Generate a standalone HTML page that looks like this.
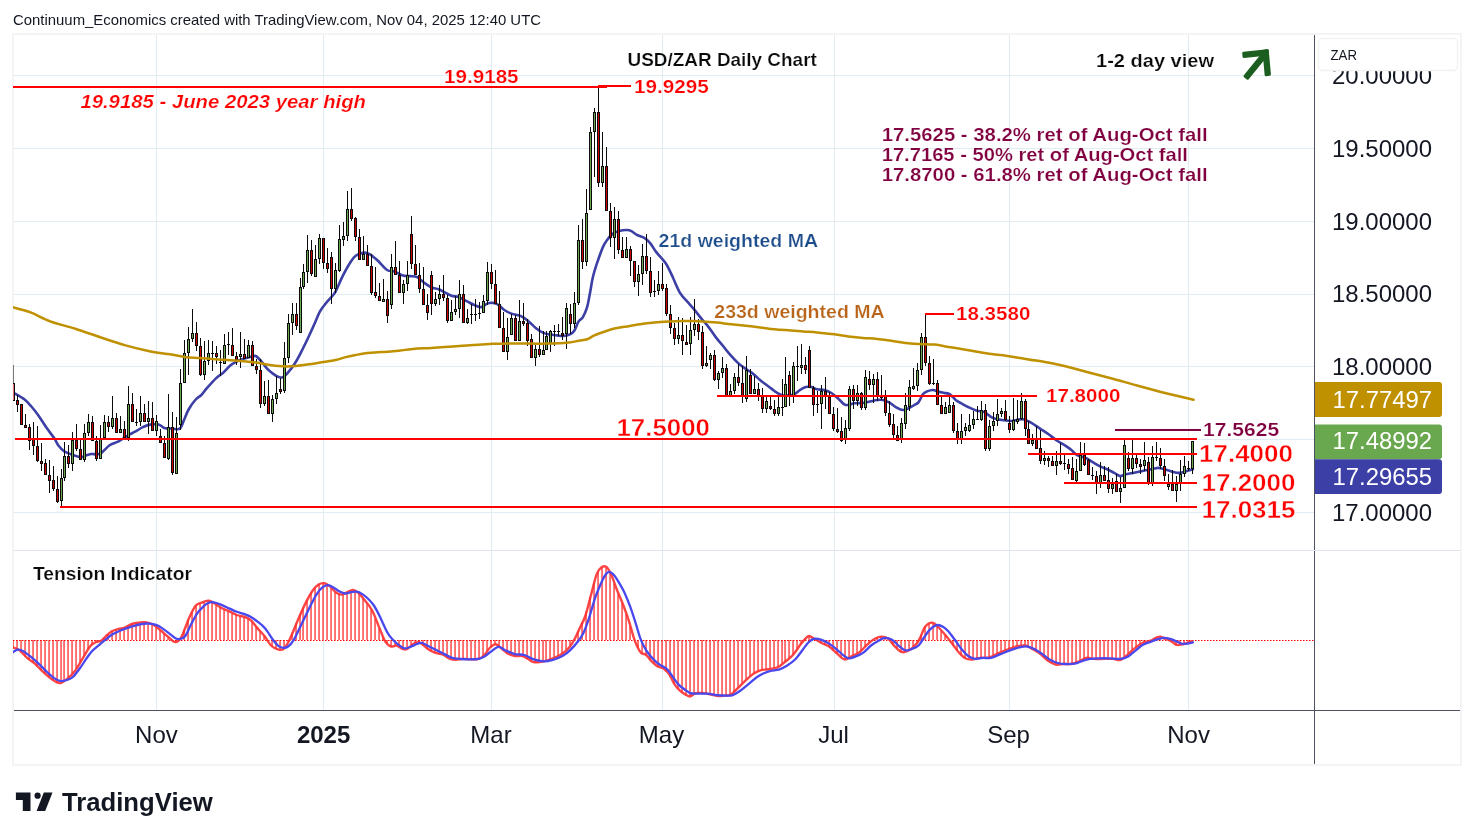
<!DOCTYPE html>
<html><head><meta charset="utf-8"><title>USD/ZAR Daily Chart</title>
<style>html,body{margin:0;padding:0;background:#fff}body{width:1474px;height:840px;overflow:hidden;font-family:"Liberation Sans",sans-serif}</style></head>
<body>
<svg width="1474" height="840" viewBox="0 0 1474 840" style="display:block;font-family:'Liberation Sans',sans-serif;">
<rect width="1474" height="840" fill="#fff"/>
<g style="will-change:transform">
<defs><clipPath id="cpMain"><rect x="13" y="35" width="1301" height="515"/></clipPath><clipPath id="cpInd"><rect x="13" y="551" width="1301" height="159"/></clipPath></defs>
<text x="13" y="24.6" font-size="14.2" fill="#131722" textLength="528" lengthAdjust="spacingAndGlyphs">Continuum_Economics created with TradingView.com, Nov 04, 2025 12:40 UTC</text>
<g shape-rendering="crispEdges"><rect x="156" y="35" width="1" height="675" fill="#e1ecf2"/><rect x="323" y="35" width="1" height="675" fill="#e1ecf2"/><rect x="491" y="35" width="1" height="675" fill="#e1ecf2"/><rect x="662" y="35" width="1" height="675" fill="#e1ecf2"/><rect x="834" y="35" width="1" height="675" fill="#e1ecf2"/><rect x="1009" y="35" width="1" height="675" fill="#e1ecf2"/><rect x="1188" y="35" width="1" height="675" fill="#e1ecf2"/><rect x="14" y="75" width="1300" height="1" fill="#e1ecf2"/><rect x="14" y="148" width="1300" height="1" fill="#e1ecf2"/><rect x="14" y="221" width="1300" height="1" fill="#e1ecf2"/><rect x="14" y="294" width="1300" height="1" fill="#e1ecf2"/><rect x="14" y="366" width="1300" height="1" fill="#e1ecf2"/><rect x="14" y="439" width="1300" height="1" fill="#e1ecf2"/><rect x="14" y="512" width="1300" height="1" fill="#e1ecf2"/></g>
<g shape-rendering="crispEdges" fill="#f4f4f5"><rect x="12" y="33" width="1450" height="2"/><rect x="12" y="33" width="2" height="733"/><rect x="1460" y="33" width="2" height="733"/><rect x="12" y="764" width="1450" height="2"/></g>
<g clip-path="url(#cpMain)" fill="none" stroke-linejoin="round" stroke-linecap="round">
<path d="M13.0,392.5C13.3,392.7 13.1,392.5 15.0,393.6C16.9,394.7 21.6,397.2 24.3,399.3C27.0,401.4 29.0,403.8 31.4,406.5C33.8,409.2 36.0,412.0 38.6,415.7C41.2,419.4 44.5,424.8 47.1,428.6C49.7,432.4 52.4,435.5 54.3,438.3C56.2,441.1 56.9,443.5 58.6,445.7C60.3,447.9 61.9,449.8 64.3,451.4C66.7,452.9 70.1,454.1 72.9,455.0C75.8,455.9 79.0,457.1 81.4,457.1C83.8,457.1 85.4,455.5 87.1,455.0C88.8,454.5 89.7,454.1 91.4,454.0C93.1,453.9 95.4,454.5 97.1,454.3C98.8,454.1 99.2,454.4 101.4,452.9C103.6,451.3 107.1,446.9 110.0,445.0C112.9,443.1 115.5,443.1 118.6,441.4C121.7,439.7 125.8,436.7 128.6,435.0C131.4,433.3 133.3,432.7 135.7,431.4C138.1,430.1 140.5,428.2 142.9,427.1C145.3,426.0 147.4,425.0 150.0,424.6C152.6,424.2 156.2,424.1 158.6,424.6C161.0,425.2 162.1,427.2 164.3,427.9C166.5,428.6 169.4,428.5 172.0,428.6C174.6,428.7 178.0,430.0 180.0,428.6C182.0,427.2 182.6,423.2 184.0,420.0C185.4,416.8 186.7,412.9 188.6,409.5C190.5,406.1 193.6,401.9 195.7,399.5C197.8,397.1 199.5,396.9 201.4,395.0C203.3,393.1 204.7,390.6 207.1,387.9C209.5,385.2 213.1,381.1 215.7,378.6C218.3,376.1 220.5,375.0 222.9,372.9C225.3,370.8 227.6,367.6 230.0,365.7C232.4,363.8 234.7,362.6 237.1,361.4C239.5,360.2 242.2,359.3 244.3,358.6C246.5,357.9 248.1,357.5 250.0,357.1C251.9,356.7 253.8,355.3 255.7,356.0C257.6,356.7 259.5,359.3 261.4,361.4C263.3,363.5 265.2,366.6 267.1,368.6C269.0,370.6 271.0,372.2 272.9,373.6C274.8,375.0 276.9,376.5 278.6,377.1C280.3,377.7 281.5,377.7 282.9,377.1C284.3,376.5 285.2,375.7 287.1,373.6C289.0,371.5 292.2,367.5 294.3,364.3C296.4,361.1 297.9,358.4 300.0,354.3C302.1,350.2 304.7,345.0 307.1,340.0C309.5,335.0 312.2,329.1 314.3,324.3C316.4,319.5 318.1,314.9 320.0,311.4C321.9,307.9 323.8,305.9 325.7,303.5C327.6,301.1 329.7,299.0 331.4,297.0C333.1,295.0 333.8,294.9 335.7,291.4C337.6,287.8 340.5,280.4 342.9,275.7C345.3,270.9 347.9,266.2 350.0,262.9C352.1,259.6 353.3,257.4 355.7,255.7C358.1,254.0 361.9,252.8 364.3,252.6C366.7,252.4 367.9,253.1 370.0,254.3C372.1,255.5 374.2,257.4 377.1,260.0C380.0,262.6 384.2,268.1 387.1,270.0C390.0,271.9 391.7,270.5 394.3,271.4C396.9,272.3 400.3,274.6 402.9,275.4C405.5,276.2 407.6,275.8 410.0,276.1C412.4,276.4 414.7,276.0 417.1,277.1C419.5,278.2 421.9,281.2 424.3,282.9C426.7,284.6 429.0,286.3 431.4,287.4C433.8,288.5 436.5,288.5 438.6,289.3C440.8,290.1 442.2,291.0 444.3,292.1C446.4,293.2 449.0,294.9 451.4,295.7C453.8,296.5 456.0,296.2 458.6,297.1C461.2,298.1 464.5,300.1 467.1,301.4C469.7,302.7 471.9,304.1 474.3,305.0C476.7,305.9 479.3,307.3 481.4,307.1C483.5,306.9 485.2,304.3 487.1,303.6C489.0,302.9 491.0,302.7 492.9,302.9C494.8,303.1 496.7,303.8 498.6,305.0C500.5,306.2 502.2,308.6 504.3,310.0C506.4,311.4 508.5,312.5 511.4,313.6C514.2,314.7 518.5,315.1 521.4,316.4C524.3,317.7 526.2,319.5 528.6,321.4C531.0,323.3 533.3,326.0 535.7,327.9C538.1,329.8 540.5,331.5 542.9,332.6C545.3,333.7 547.6,334.1 550.0,334.6C552.4,335.1 555.0,335.2 557.1,335.4C559.2,335.6 560.8,336.2 562.9,336.0C565.0,335.8 568.1,335.2 570.0,334.3C571.9,333.4 572.9,332.9 574.3,330.7C575.7,328.5 577.2,323.7 578.6,321.4C580.0,319.1 581.5,319.5 582.9,317.1C584.3,314.7 585.9,311.1 587.1,307.1C588.3,303.1 589.0,297.9 590.0,292.9C591.0,287.9 591.7,282.0 592.9,277.0C594.1,272.0 595.4,267.9 597.1,262.9C598.8,257.9 601.2,250.9 602.9,247.1C604.6,243.3 605.4,242.2 607.1,240.0C608.8,237.8 610.8,235.2 612.9,233.6C615.0,232.0 617.6,231.3 620.0,230.7C622.4,230.1 625.2,229.9 627.1,230.0C629.0,230.1 629.7,230.3 631.4,231.1C633.1,231.9 635.0,233.9 637.1,235.0C639.2,236.1 642.1,236.6 644.3,237.9C646.4,239.2 648.1,240.7 650.0,242.9C651.9,245.2 653.8,248.9 655.7,251.4C657.6,253.9 659.5,255.7 661.4,258.0C663.3,260.4 665.2,262.2 667.1,265.5C669.0,268.8 670.8,272.9 672.9,277.5C675.0,282.1 677.6,288.9 680.0,292.9C682.4,296.9 685.0,298.9 687.1,301.4C689.2,303.9 690.5,305.0 692.9,307.9C695.3,310.8 698.8,315.4 701.4,318.6C704.0,321.8 706.2,324.0 708.6,327.1C711.0,330.2 713.3,334.0 715.7,337.1C718.1,340.2 720.8,343.1 722.9,345.7C725.0,348.3 726.2,350.2 728.6,352.9C731.0,355.6 734.5,359.6 737.1,362.1C739.7,364.6 741.7,366.0 744.3,367.9C746.9,369.8 750.3,371.6 752.9,373.6C755.5,375.6 757.9,378.2 760.0,380.0C762.1,381.8 763.8,382.9 765.7,384.3C767.6,385.7 769.5,387.2 771.4,388.6C773.3,390.0 775.2,391.8 777.1,392.9C779.0,394.0 781.0,395.0 782.9,395.4C784.8,395.8 786.7,395.6 788.6,395.4C790.5,395.2 792.4,395.2 794.3,394.3C796.2,393.4 798.1,391.2 800.0,390.0C801.9,388.8 803.8,387.6 805.7,387.1C807.6,386.6 809.5,386.7 811.4,387.1C813.3,387.5 815.0,388.8 817.1,389.3C819.2,389.8 821.9,389.4 824.3,390.0C826.7,390.6 829.0,391.5 831.4,393.0C833.8,394.5 836.5,397.1 838.6,399.0C840.8,400.9 842.6,403.3 844.3,404.3C846.0,405.3 846.9,405.2 848.6,405.0C850.3,404.8 851.9,403.6 854.3,403.3C856.7,403.0 860.3,403.3 862.9,403.0C865.5,402.7 867.6,402.0 870.0,401.5C872.4,401.0 875.0,400.2 877.1,400.0C879.2,399.8 880.8,399.5 882.9,400.0C885.0,400.5 887.9,401.7 890.0,402.9C892.1,404.1 893.6,405.9 895.7,407.1C897.9,408.3 900.8,409.8 902.9,410.0C905.0,410.2 906.7,409.1 908.6,408.3C910.5,407.5 912.6,406.0 914.3,405.0C916.0,404.0 917.2,403.9 918.6,402.1C920.0,400.3 921.5,396.1 922.9,394.3C924.3,392.5 925.4,392.1 927.1,391.4C928.8,390.7 931.0,389.9 932.9,390.0C934.8,390.1 936.7,391.2 938.6,391.7C940.5,392.2 942.4,392.5 944.3,392.9C946.2,393.3 948.1,393.1 950.0,394.3C951.9,395.5 953.6,398.3 955.7,400.0C957.9,401.7 960.5,403.0 962.9,404.3C965.3,405.6 967.6,406.8 970.0,407.9C972.4,409.0 974.7,410.0 977.1,410.7C979.5,411.4 981.9,411.0 984.3,412.1C986.7,413.2 989.3,415.9 991.4,417.1C993.5,418.3 995.0,418.8 997.1,419.3C999.2,419.8 1001.9,420.0 1004.3,420.3C1006.7,420.6 1009.0,421.1 1011.4,421.0C1013.8,420.9 1016.5,419.8 1018.6,419.5C1020.8,419.2 1022.2,418.9 1024.3,419.5C1026.4,420.1 1028.8,421.4 1031.4,422.9C1034.0,424.4 1037.1,426.7 1040.0,428.6C1042.9,430.5 1045.8,432.3 1048.6,434.3C1051.4,436.3 1054.5,438.9 1057.1,440.7C1059.7,442.5 1061.9,443.4 1064.3,445.0C1066.7,446.6 1069.3,448.3 1071.4,450.0C1073.5,451.7 1074.7,453.7 1077.1,455.0C1079.5,456.3 1083.3,456.8 1085.7,457.9C1088.1,459.0 1089.0,460.0 1091.4,461.4C1093.8,462.8 1097.4,465.1 1100.0,466.4C1102.6,467.7 1104.7,468.2 1107.1,469.3C1109.5,470.4 1112.1,471.8 1114.3,472.9C1116.5,474.0 1118.1,475.9 1120.0,476.1C1121.9,476.3 1123.5,474.8 1125.7,474.3C1127.9,473.8 1130.5,473.4 1132.9,472.9C1135.3,472.4 1137.6,471.9 1140.0,471.4C1142.4,470.9 1144.7,470.5 1147.1,470.0C1149.5,469.5 1152.4,469.0 1154.3,468.6C1156.2,468.2 1156.9,467.8 1158.6,467.9C1160.3,468.0 1162.2,468.7 1164.3,469.3C1166.4,469.9 1169.0,470.8 1171.4,471.4C1173.8,472.0 1176.2,472.9 1178.6,472.9C1181.0,472.9 1183.3,472.0 1185.7,471.4C1188.1,470.8 1191.7,469.6 1192.9,469.3" stroke="#3c3fa5" stroke-width="2.6"/>
</g>
<g shape-rendering="crispEdges" clip-path="url(#cpMain)"><g fill="#0b0b0b"><rect x="13" y="365" width="1" height="36" fill="#7a7a7a"/><rect x="12" y="383" width="3" height="18"/><rect x="17" y="395" width="1" height="17"/><rect x="16" y="400" width="3" height="5"/><rect x="21" y="404" width="1" height="21"/><rect x="20" y="404" width="3" height="21"/><rect x="25" y="414" width="1" height="14"/><rect x="24" y="425" width="3" height="3"/><rect x="29" y="424" width="1" height="26"/><rect x="28" y="427" width="3" height="14"/><rect x="33" y="422" width="1" height="33"/><rect x="32" y="439" width="3" height="7"/><rect x="37" y="426" width="1" height="36"/><rect x="36" y="446" width="3" height="15"/><rect x="41" y="443" width="1" height="28"/><rect x="40" y="461" width="3" height="3"/><rect x="45" y="459" width="1" height="16"/><rect x="44" y="463" width="3" height="12"/><rect x="49" y="460" width="1" height="33"/><rect x="48" y="475" width="3" height="6"/><rect x="53" y="466" width="1" height="25"/><rect x="52" y="480" width="3" height="9"/><rect x="57" y="476" width="1" height="27"/><rect x="56" y="489" width="3" height="13"/><rect x="61" y="469" width="1" height="37"/><rect x="60" y="478" width="3" height="23"/><rect x="64" y="442" width="1" height="39"/><rect x="63" y="456" width="3" height="22"/><rect x="68" y="445" width="1" height="23"/><rect x="67" y="456" width="3" height="8"/><rect x="72" y="432" width="1" height="39"/><rect x="71" y="440" width="3" height="24"/><rect x="76" y="424" width="1" height="27"/><rect x="75" y="440" width="3" height="9"/><rect x="80" y="440" width="1" height="20"/><rect x="79" y="449" width="3" height="11"/><rect x="84" y="424" width="1" height="38"/><rect x="83" y="433" width="3" height="27"/><rect x="88" y="414" width="1" height="22"/><rect x="87" y="422" width="3" height="11"/><rect x="92" y="416" width="1" height="25"/><rect x="91" y="422" width="3" height="19"/><rect x="96" y="436" width="1" height="25"/><rect x="95" y="441" width="3" height="18"/><rect x="100" y="425" width="1" height="34"/><rect x="99" y="438" width="3" height="21"/><rect x="104" y="415" width="1" height="23"/><rect x="103" y="422" width="3" height="16"/><rect x="108" y="416" width="1" height="16"/><rect x="107" y="422" width="3" height="5"/><rect x="112" y="396" width="1" height="33"/><rect x="111" y="418" width="3" height="9"/><rect x="116" y="413" width="1" height="20"/><rect x="115" y="418" width="3" height="15"/><rect x="120" y="416" width="1" height="17"/><rect x="119" y="429" width="3" height="4"/><rect x="124" y="421" width="1" height="17"/><rect x="123" y="429" width="3" height="9"/><rect x="128" y="386" width="1" height="55"/><rect x="127" y="404" width="3" height="34"/><rect x="132" y="393" width="1" height="29"/><rect x="131" y="404" width="3" height="18"/><rect x="136" y="409" width="1" height="17"/><rect x="135" y="422" width="3" height="1"/><rect x="140" y="396" width="1" height="30"/><rect x="139" y="413" width="3" height="9"/><rect x="144" y="404" width="1" height="18"/><rect x="143" y="413" width="3" height="9"/><rect x="148" y="401" width="1" height="33"/><rect x="147" y="418" width="3" height="4"/><rect x="152" y="402" width="1" height="29"/><rect x="151" y="418" width="3" height="13"/><rect x="156" y="415" width="1" height="21"/><rect x="155" y="421" width="3" height="10"/><rect x="160" y="429" width="1" height="14"/><rect x="159" y="436" width="3" height="7"/><rect x="164" y="436" width="1" height="22"/><rect x="163" y="443" width="3" height="15"/><rect x="168" y="394" width="1" height="66"/><rect x="167" y="427" width="3" height="32"/><rect x="172" y="412" width="1" height="63"/><rect x="171" y="427" width="3" height="46"/><rect x="176" y="417" width="1" height="57"/><rect x="175" y="433" width="3" height="41"/><rect x="180" y="369" width="1" height="61"/><rect x="179" y="383" width="3" height="42"/><rect x="184" y="340" width="1" height="43"/><rect x="183" y="353" width="3" height="30"/><rect x="188" y="327" width="1" height="48"/><rect x="187" y="339" width="3" height="14"/><rect x="192" y="309" width="1" height="33"/><rect x="191" y="333" width="3" height="6"/><rect x="196" y="322" width="1" height="29"/><rect x="195" y="333" width="3" height="13"/><rect x="200" y="338" width="1" height="38"/><rect x="199" y="346" width="3" height="29"/><rect x="204" y="341" width="1" height="39"/><rect x="203" y="361" width="3" height="14"/><rect x="208" y="340" width="1" height="25"/><rect x="207" y="353" width="3" height="8"/><rect x="212" y="341" width="1" height="30"/><rect x="211" y="353" width="3" height="1"/><rect x="216" y="346" width="1" height="18"/><rect x="215" y="353" width="3" height="4"/><rect x="220" y="350" width="1" height="26"/><rect x="219" y="362" width="3" height="1"/><rect x="224" y="334" width="1" height="30"/><rect x="223" y="345" width="3" height="19"/><rect x="228" y="332" width="1" height="23"/><rect x="227" y="344" width="3" height="1"/><rect x="232" y="328" width="1" height="28"/><rect x="231" y="345" width="3" height="11"/><rect x="236" y="352" width="1" height="13"/><rect x="235" y="356" width="3" height="4"/><rect x="240" y="332" width="1" height="36"/><rect x="239" y="354" width="3" height="3"/><rect x="244" y="339" width="1" height="20"/><rect x="243" y="354" width="3" height="5"/><rect x="248" y="340" width="1" height="18"/><rect x="247" y="345" width="3" height="13"/><rect x="252" y="341" width="1" height="25"/><rect x="251" y="345" width="3" height="21"/><rect x="256" y="359" width="1" height="15"/><rect x="255" y="366" width="3" height="4"/><rect x="260" y="359" width="1" height="49"/><rect x="259" y="370" width="3" height="34"/><rect x="264" y="381" width="1" height="25"/><rect x="263" y="396" width="3" height="8"/><rect x="268" y="380" width="1" height="34"/><rect x="267" y="396" width="3" height="18"/><rect x="272" y="395" width="1" height="27"/><rect x="271" y="399" width="3" height="15"/><rect x="276" y="376" width="1" height="28"/><rect x="275" y="393" width="3" height="6"/><rect x="280" y="378" width="1" height="16"/><rect x="279" y="389" width="3" height="3"/><rect x="284" y="342" width="1" height="51"/><rect x="283" y="358" width="3" height="33"/><rect x="288" y="314" width="1" height="49"/><rect x="287" y="323" width="3" height="35"/><rect x="292" y="303" width="1" height="32"/><rect x="291" y="314" width="3" height="9"/><rect x="296" y="303" width="1" height="27"/><rect x="295" y="314" width="3" height="12"/><rect x="300" y="278" width="1" height="55"/><rect x="299" y="287" width="3" height="46"/><rect x="303" y="264" width="1" height="25"/><rect x="302" y="272" width="3" height="15"/><rect x="307" y="235" width="1" height="48"/><rect x="306" y="250" width="3" height="22"/><rect x="311" y="240" width="1" height="36"/><rect x="310" y="250" width="3" height="24"/><rect x="315" y="245" width="1" height="32"/><rect x="314" y="259" width="3" height="18"/><rect x="319" y="234" width="1" height="30"/><rect x="318" y="238" width="3" height="21"/><rect x="323" y="238" width="1" height="31"/><rect x="322" y="238" width="3" height="25"/><rect x="327" y="248" width="1" height="25"/><rect x="326" y="263" width="3" height="6"/><rect x="331" y="252" width="1" height="52"/><rect x="330" y="257" width="3" height="32"/><rect x="335" y="263" width="1" height="30"/><rect x="334" y="270" width="3" height="19"/><rect x="339" y="225" width="1" height="47"/><rect x="338" y="239" width="3" height="32"/><rect x="343" y="222" width="1" height="24"/><rect x="342" y="236" width="3" height="4"/><rect x="347" y="191" width="1" height="50"/><rect x="346" y="209" width="3" height="27"/><rect x="351" y="188" width="1" height="33"/><rect x="350" y="209" width="3" height="10"/><rect x="355" y="217" width="1" height="24"/><rect x="354" y="218" width="3" height="19"/><rect x="359" y="229" width="1" height="31"/><rect x="358" y="237" width="3" height="23"/><rect x="363" y="236" width="1" height="24"/><rect x="362" y="254" width="3" height="6"/><rect x="367" y="245" width="1" height="21"/><rect x="366" y="254" width="3" height="12"/><rect x="371" y="254" width="1" height="41"/><rect x="370" y="266" width="3" height="27"/><rect x="375" y="267" width="1" height="31"/><rect x="374" y="292" width="3" height="4"/><rect x="379" y="283" width="1" height="18"/><rect x="378" y="296" width="3" height="5"/><rect x="383" y="279" width="1" height="23"/><rect x="382" y="299" width="3" height="3"/><rect x="387" y="291" width="1" height="32"/><rect x="386" y="299" width="3" height="17"/><rect x="391" y="254" width="1" height="55"/><rect x="390" y="267" width="3" height="38"/><rect x="395" y="241" width="1" height="34"/><rect x="394" y="267" width="3" height="8"/><rect x="399" y="261" width="1" height="32"/><rect x="398" y="275" width="3" height="18"/><rect x="403" y="280" width="1" height="24"/><rect x="402" y="284" width="3" height="9"/><rect x="407" y="261" width="1" height="30"/><rect x="406" y="275" width="3" height="9"/><rect x="411" y="216" width="1" height="53"/><rect x="410" y="234" width="3" height="30"/><rect x="415" y="245" width="1" height="30"/><rect x="414" y="264" width="3" height="11"/><rect x="419" y="263" width="1" height="30"/><rect x="418" y="275" width="3" height="14"/><rect x="423" y="267" width="1" height="38"/><rect x="422" y="289" width="3" height="16"/><rect x="427" y="294" width="1" height="26"/><rect x="426" y="305" width="3" height="8"/><rect x="431" y="271" width="1" height="44"/><rect x="430" y="275" width="3" height="29"/><rect x="435" y="292" width="1" height="14"/><rect x="434" y="299" width="3" height="5"/><rect x="439" y="285" width="1" height="20"/><rect x="438" y="294" width="3" height="5"/><rect x="443" y="275" width="1" height="26"/><rect x="442" y="294" width="3" height="4"/><rect x="447" y="295" width="1" height="28"/><rect x="446" y="298" width="3" height="23"/><rect x="451" y="300" width="1" height="21"/><rect x="450" y="312" width="3" height="9"/><rect x="455" y="296" width="1" height="19"/><rect x="454" y="309" width="3" height="3"/><rect x="459" y="280" width="1" height="38"/><rect x="458" y="294" width="3" height="15"/><rect x="463" y="285" width="1" height="38"/><rect x="462" y="294" width="3" height="29"/><rect x="467" y="309" width="1" height="15"/><rect x="466" y="318" width="3" height="5"/><rect x="471" y="304" width="1" height="20"/><rect x="470" y="314" width="3" height="1"/><rect x="475" y="299" width="1" height="22"/><rect x="474" y="314" width="3" height="1"/><rect x="479" y="302" width="1" height="17"/><rect x="478" y="313" width="3" height="1"/><rect x="483" y="295" width="1" height="18"/><rect x="482" y="301" width="3" height="12"/><rect x="487" y="262" width="1" height="43"/><rect x="486" y="272" width="3" height="29"/><rect x="491" y="264" width="1" height="25"/><rect x="490" y="272" width="3" height="12"/><rect x="495" y="270" width="1" height="34"/><rect x="494" y="284" width="3" height="20"/><rect x="499" y="291" width="1" height="37"/><rect x="498" y="304" width="3" height="24"/><rect x="503" y="312" width="1" height="40"/><rect x="502" y="328" width="3" height="24"/><rect x="507" y="318" width="1" height="42"/><rect x="506" y="337" width="3" height="15"/><rect x="511" y="314" width="1" height="21"/><rect x="510" y="318" width="3" height="17"/><rect x="515" y="315" width="1" height="26"/><rect x="514" y="318" width="3" height="23"/><rect x="519" y="300" width="1" height="41"/><rect x="518" y="321" width="3" height="20"/><rect x="523" y="303" width="1" height="23"/><rect x="522" y="321" width="3" height="3"/><rect x="527" y="319" width="1" height="27"/><rect x="526" y="323" width="3" height="18"/><rect x="531" y="334" width="1" height="24"/><rect x="530" y="339" width="3" height="19"/><rect x="535" y="345" width="1" height="21"/><rect x="534" y="349" width="3" height="9"/><rect x="539" y="326" width="1" height="31"/><rect x="538" y="349" width="3" height="6"/><rect x="543" y="331" width="1" height="24"/><rect x="542" y="350" width="3" height="5"/><rect x="546" y="331" width="1" height="19"/><rect x="545" y="336" width="3" height="14"/><rect x="550" y="330" width="1" height="22"/><rect x="549" y="331" width="3" height="12"/><rect x="554" y="325" width="1" height="21"/><rect x="553" y="331" width="3" height="1"/><rect x="558" y="324" width="1" height="12"/><rect x="557" y="331" width="3" height="1"/><rect x="562" y="317" width="1" height="23"/><rect x="561" y="333" width="3" height="3"/><rect x="566" y="303" width="1" height="46"/><rect x="565" y="308" width="3" height="26"/><rect x="570" y="304" width="1" height="30"/><rect x="569" y="314" width="3" height="10"/><rect x="574" y="292" width="1" height="36"/><rect x="573" y="303" width="3" height="21"/><rect x="578" y="225" width="1" height="80"/><rect x="577" y="240" width="3" height="63"/><rect x="582" y="219" width="1" height="50"/><rect x="581" y="240" width="3" height="22"/><rect x="586" y="189" width="1" height="77"/><rect x="585" y="213" width="3" height="49"/><rect x="590" y="127" width="1" height="83"/><rect x="589" y="132" width="3" height="78"/><rect x="594" y="108" width="1" height="69"/><rect x="593" y="112" width="3" height="20"/><rect x="598" y="87" width="1" height="100"/><rect x="597" y="112" width="3" height="71"/><rect x="602" y="132" width="1" height="55"/><rect x="601" y="166" width="3" height="17"/><rect x="606" y="147" width="1" height="64"/><rect x="605" y="166" width="3" height="45"/><rect x="610" y="203" width="1" height="44"/><rect x="609" y="211" width="3" height="27"/><rect x="614" y="207" width="1" height="52"/><rect x="613" y="219" width="3" height="19"/><rect x="618" y="211" width="1" height="43"/><rect x="617" y="219" width="3" height="31"/><rect x="622" y="237" width="1" height="21"/><rect x="621" y="250" width="3" height="8"/><rect x="626" y="237" width="1" height="21"/><rect x="625" y="249" width="3" height="9"/><rect x="630" y="246" width="1" height="30"/><rect x="629" y="249" width="3" height="12"/><rect x="634" y="261" width="1" height="26"/><rect x="633" y="261" width="3" height="21"/><rect x="638" y="265" width="1" height="31"/><rect x="637" y="274" width="3" height="8"/><rect x="642" y="244" width="1" height="41"/><rect x="641" y="256" width="3" height="18"/><rect x="646" y="234" width="1" height="40"/><rect x="645" y="256" width="3" height="15"/><rect x="650" y="257" width="1" height="40"/><rect x="649" y="271" width="3" height="22"/><rect x="654" y="280" width="1" height="17"/><rect x="653" y="291" width="3" height="1"/><rect x="658" y="271" width="1" height="24"/><rect x="657" y="284" width="3" height="7"/><rect x="662" y="263" width="1" height="28"/><rect x="661" y="284" width="3" height="5"/><rect x="666" y="284" width="1" height="32"/><rect x="665" y="288" width="3" height="26"/><rect x="670" y="305" width="1" height="29"/><rect x="669" y="314" width="3" height="14"/><rect x="674" y="323" width="1" height="22"/><rect x="673" y="328" width="3" height="11"/><rect x="678" y="317" width="1" height="27"/><rect x="677" y="335" width="3" height="4"/><rect x="682" y="318" width="1" height="37"/><rect x="681" y="335" width="3" height="6"/><rect x="686" y="325" width="1" height="20"/><rect x="685" y="342" width="3" height="3"/><rect x="690" y="317" width="1" height="38"/><rect x="689" y="330" width="3" height="14"/><rect x="694" y="299" width="1" height="37"/><rect x="693" y="324" width="3" height="6"/><rect x="698" y="319" width="1" height="21"/><rect x="697" y="324" width="3" height="8"/><rect x="702" y="326" width="1" height="43"/><rect x="701" y="332" width="3" height="34"/><rect x="706" y="346" width="1" height="21"/><rect x="705" y="363" width="3" height="3"/><rect x="710" y="353" width="1" height="16"/><rect x="709" y="355" width="3" height="5"/><rect x="714" y="350" width="1" height="31"/><rect x="713" y="355" width="3" height="25"/><rect x="718" y="371" width="1" height="18"/><rect x="717" y="373" width="3" height="7"/><rect x="722" y="357" width="1" height="21"/><rect x="721" y="368" width="3" height="5"/><rect x="726" y="364" width="1" height="32"/><rect x="725" y="368" width="3" height="28"/><rect x="730" y="384" width="1" height="13"/><rect x="729" y="391" width="3" height="5"/><rect x="734" y="373" width="1" height="21"/><rect x="733" y="377" width="3" height="14"/><rect x="738" y="364" width="1" height="22"/><rect x="737" y="377" width="3" height="6"/><rect x="742" y="366" width="1" height="37"/><rect x="741" y="383" width="3" height="14"/><rect x="746" y="356" width="1" height="46"/><rect x="745" y="370" width="3" height="29"/><rect x="750" y="369" width="1" height="25"/><rect x="749" y="375" width="3" height="19"/><rect x="754" y="376" width="1" height="18"/><rect x="753" y="389" width="3" height="5"/><rect x="758" y="383" width="1" height="18"/><rect x="757" y="389" width="3" height="7"/><rect x="762" y="388" width="1" height="25"/><rect x="761" y="396" width="3" height="13"/><rect x="766" y="397" width="1" height="16"/><rect x="765" y="401" width="3" height="8"/><rect x="770" y="397" width="1" height="13"/><rect x="769" y="406" width="3" height="3"/><rect x="774" y="400" width="1" height="16"/><rect x="773" y="409" width="3" height="5"/><rect x="778" y="397" width="1" height="19"/><rect x="777" y="407" width="3" height="7"/><rect x="782" y="379" width="1" height="37"/><rect x="781" y="407" width="3" height="1"/><rect x="785" y="357" width="1" height="50"/><rect x="784" y="384" width="3" height="23"/><rect x="789" y="371" width="1" height="35"/><rect x="788" y="375" width="3" height="21"/><rect x="793" y="362" width="1" height="41"/><rect x="792" y="366" width="3" height="30"/><rect x="797" y="346" width="1" height="35"/><rect x="796" y="366" width="3" height="1"/><rect x="801" y="344" width="1" height="30"/><rect x="800" y="365" width="3" height="3"/><rect x="805" y="357" width="1" height="17"/><rect x="804" y="365" width="3" height="5"/><rect x="809" y="346" width="1" height="42"/><rect x="808" y="350" width="3" height="38"/><rect x="813" y="386" width="1" height="30"/><rect x="812" y="388" width="3" height="17"/><rect x="817" y="391" width="1" height="22"/><rect x="816" y="404" width="3" height="1"/><rect x="821" y="385" width="1" height="44"/><rect x="820" y="391" width="3" height="13"/><rect x="825" y="377" width="1" height="32"/><rect x="824" y="391" width="3" height="6"/><rect x="829" y="392" width="1" height="22"/><rect x="828" y="397" width="3" height="17"/><rect x="833" y="407" width="1" height="24"/><rect x="832" y="414" width="3" height="15"/><rect x="837" y="408" width="1" height="25"/><rect x="836" y="429" width="3" height="3"/><rect x="841" y="417" width="1" height="25"/><rect x="840" y="431" width="3" height="10"/><rect x="845" y="420" width="1" height="24"/><rect x="844" y="428" width="3" height="12"/><rect x="849" y="386" width="1" height="45"/><rect x="848" y="389" width="3" height="40"/><rect x="853" y="385" width="1" height="24"/><rect x="852" y="389" width="3" height="12"/><rect x="857" y="385" width="1" height="21"/><rect x="856" y="393" width="3" height="8"/><rect x="861" y="392" width="1" height="18"/><rect x="860" y="393" width="3" height="15"/><rect x="865" y="370" width="1" height="40"/><rect x="864" y="377" width="3" height="31"/><rect x="869" y="371" width="1" height="19"/><rect x="868" y="379" width="3" height="6"/><rect x="873" y="374" width="1" height="29"/><rect x="872" y="379" width="3" height="6"/><rect x="877" y="372" width="1" height="29"/><rect x="876" y="379" width="3" height="18"/><rect x="881" y="375" width="1" height="25"/><rect x="880" y="396" width="3" height="2"/><rect x="885" y="390" width="1" height="26"/><rect x="884" y="396" width="3" height="17"/><rect x="889" y="401" width="1" height="26"/><rect x="888" y="413" width="3" height="12"/><rect x="893" y="414" width="1" height="24"/><rect x="892" y="424" width="3" height="11"/><rect x="897" y="426" width="1" height="15"/><rect x="896" y="435" width="3" height="6"/><rect x="901" y="418" width="1" height="25"/><rect x="900" y="423" width="3" height="17"/><rect x="905" y="393" width="1" height="36"/><rect x="904" y="405" width="3" height="19"/><rect x="909" y="380" width="1" height="31"/><rect x="908" y="387" width="3" height="20"/><rect x="913" y="368" width="1" height="22"/><rect x="912" y="386" width="3" height="3"/><rect x="917" y="363" width="1" height="28"/><rect x="916" y="370" width="3" height="16"/><rect x="921" y="333" width="1" height="42"/><rect x="920" y="337" width="3" height="33"/><rect x="925" y="314" width="1" height="52"/><rect x="924" y="337" width="3" height="26"/><rect x="929" y="356" width="1" height="29"/><rect x="928" y="363" width="3" height="21"/><rect x="933" y="359" width="1" height="26"/><rect x="932" y="383" width="3" height="1"/><rect x="937" y="380" width="1" height="25"/><rect x="936" y="383" width="3" height="22"/><rect x="941" y="397" width="1" height="17"/><rect x="940" y="405" width="3" height="9"/><rect x="945" y="402" width="1" height="12"/><rect x="944" y="407" width="3" height="7"/><rect x="949" y="397" width="1" height="16"/><rect x="948" y="405" width="3" height="8"/><rect x="953" y="402" width="1" height="31"/><rect x="952" y="405" width="3" height="26"/><rect x="957" y="423" width="1" height="21"/><rect x="956" y="431" width="3" height="9"/><rect x="961" y="414" width="1" height="30"/><rect x="960" y="431" width="3" height="9"/><rect x="965" y="423" width="1" height="13"/><rect x="964" y="427" width="3" height="4"/><rect x="969" y="414" width="1" height="18"/><rect x="968" y="425" width="3" height="6"/><rect x="973" y="411" width="1" height="18"/><rect x="972" y="419" width="3" height="6"/><rect x="977" y="406" width="1" height="14"/><rect x="976" y="419" width="3" height="1"/><rect x="981" y="401" width="1" height="20"/><rect x="980" y="410" width="3" height="10"/><rect x="985" y="404" width="1" height="47"/><rect x="984" y="410" width="3" height="39"/><rect x="989" y="420" width="1" height="31"/><rect x="988" y="426" width="3" height="23"/><rect x="993" y="412" width="1" height="19"/><rect x="992" y="421" width="3" height="5"/><rect x="997" y="399" width="1" height="27"/><rect x="996" y="414" width="3" height="7"/><rect x="1001" y="408" width="1" height="9"/><rect x="1000" y="411" width="3" height="3"/><rect x="1005" y="400" width="1" height="21"/><rect x="1004" y="411" width="3" height="9"/><rect x="1009" y="416" width="1" height="17"/><rect x="1008" y="423" width="3" height="7"/><rect x="1013" y="398" width="1" height="33"/><rect x="1012" y="420" width="3" height="10"/><rect x="1017" y="400" width="1" height="24"/><rect x="1016" y="419" width="3" height="3"/><rect x="1021" y="393" width="1" height="27"/><rect x="1020" y="401" width="3" height="18"/><rect x="1025" y="399" width="1" height="37"/><rect x="1024" y="401" width="3" height="28"/><rect x="1028" y="421" width="1" height="23"/><rect x="1027" y="429" width="3" height="15"/><rect x="1032" y="434" width="1" height="12"/><rect x="1031" y="440" width="3" height="4"/><rect x="1036" y="426" width="1" height="23"/><rect x="1035" y="439" width="3" height="10"/><rect x="1040" y="430" width="1" height="34"/><rect x="1039" y="448" width="3" height="13"/><rect x="1044" y="451" width="1" height="14"/><rect x="1043" y="458" width="3" height="3"/><rect x="1048" y="456" width="1" height="11"/><rect x="1047" y="458" width="3" height="3"/><rect x="1052" y="456" width="1" height="10"/><rect x="1051" y="461" width="3" height="5"/><rect x="1056" y="451" width="1" height="24"/><rect x="1055" y="461" width="3" height="5"/><rect x="1060" y="443" width="1" height="22"/><rect x="1059" y="461" width="3" height="3"/><rect x="1064" y="453" width="1" height="17"/><rect x="1063" y="463" width="3" height="1"/><rect x="1068" y="459" width="1" height="15"/><rect x="1067" y="464" width="3" height="5"/><rect x="1072" y="457" width="1" height="23"/><rect x="1071" y="468" width="3" height="12"/><rect x="1076" y="459" width="1" height="23"/><rect x="1075" y="471" width="3" height="10"/><rect x="1080" y="442" width="1" height="29"/><rect x="1079" y="455" width="3" height="16"/><rect x="1084" y="443" width="1" height="23"/><rect x="1083" y="455" width="3" height="10"/><rect x="1088" y="459" width="1" height="16"/><rect x="1087" y="460" width="3" height="15"/><rect x="1092" y="467" width="1" height="13"/><rect x="1091" y="475" width="3" height="1"/><rect x="1096" y="471" width="1" height="23"/><rect x="1095" y="476" width="3" height="8"/><rect x="1100" y="462" width="1" height="26"/><rect x="1099" y="475" width="3" height="8"/><rect x="1104" y="466" width="1" height="15"/><rect x="1103" y="475" width="3" height="6"/><rect x="1108" y="467" width="1" height="26"/><rect x="1107" y="480" width="3" height="9"/><rect x="1112" y="478" width="1" height="16"/><rect x="1111" y="484" width="3" height="5"/><rect x="1116" y="474" width="1" height="18"/><rect x="1115" y="481" width="3" height="11"/><rect x="1120" y="477" width="1" height="26"/><rect x="1119" y="488" width="3" height="4"/><rect x="1124" y="440" width="1" height="48"/><rect x="1123" y="445" width="3" height="43"/><rect x="1128" y="452" width="1" height="19"/><rect x="1127" y="458" width="3" height="11"/><rect x="1132" y="440" width="1" height="34"/><rect x="1131" y="458" width="3" height="11"/><rect x="1136" y="455" width="1" height="13"/><rect x="1135" y="458" width="3" height="6"/><rect x="1140" y="459" width="1" height="15"/><rect x="1139" y="464" width="3" height="3"/><rect x="1144" y="442" width="1" height="29"/><rect x="1143" y="460" width="3" height="6"/><rect x="1148" y="457" width="1" height="28"/><rect x="1147" y="462" width="3" height="21"/><rect x="1152" y="446" width="1" height="40"/><rect x="1151" y="457" width="3" height="26"/><rect x="1156" y="442" width="1" height="19"/><rect x="1155" y="457" width="3" height="1"/><rect x="1160" y="448" width="1" height="21"/><rect x="1159" y="458" width="3" height="8"/><rect x="1164" y="459" width="1" height="22"/><rect x="1163" y="466" width="3" height="10"/><rect x="1168" y="474" width="1" height="16"/><rect x="1167" y="484" width="3" height="3"/><rect x="1172" y="470" width="1" height="21"/><rect x="1171" y="484" width="3" height="7"/><rect x="1176" y="476" width="1" height="26"/><rect x="1175" y="484" width="3" height="7"/><rect x="1180" y="460" width="1" height="31"/><rect x="1179" y="474" width="3" height="10"/><rect x="1184" y="456" width="1" height="21"/><rect x="1183" y="466" width="3" height="8"/><rect x="1188" y="461" width="1" height="10"/><rect x="1187" y="468" width="3" height="1"/><rect x="1192" y="441" width="1" height="33"/><rect x="1191" y="441" width="3" height="28"/></g><rect x="13" y="384" width="1" height="16" fill="#e8707a"/><rect x="17" y="401" width="1" height="3" fill="#cc0000"/><rect x="21" y="405" width="1" height="19" fill="#cc0000"/><rect x="25" y="426" width="1" height="1" fill="#cc0000"/><rect x="29" y="428" width="1" height="12" fill="#cc0000"/><rect x="33" y="440" width="1" height="5" fill="#cc0000"/><rect x="37" y="447" width="1" height="13" fill="#cc0000"/><rect x="41" y="462" width="1" height="1" fill="#cc0000"/><rect x="45" y="464" width="1" height="10" fill="#cc0000"/><rect x="49" y="476" width="1" height="4" fill="#cc0000"/><rect x="53" y="481" width="1" height="7" fill="#cc0000"/><rect x="57" y="490" width="1" height="11" fill="#cc0000"/><rect x="61" y="479" width="1" height="21" fill="#6aa84f"/><rect x="64" y="457" width="1" height="20" fill="#6aa84f"/><rect x="68" y="457" width="1" height="6" fill="#cc0000"/><rect x="72" y="441" width="1" height="22" fill="#6aa84f"/><rect x="76" y="441" width="1" height="7" fill="#cc0000"/><rect x="80" y="450" width="1" height="9" fill="#cc0000"/><rect x="84" y="434" width="1" height="25" fill="#6aa84f"/><rect x="88" y="423" width="1" height="9" fill="#6aa84f"/><rect x="92" y="423" width="1" height="17" fill="#cc0000"/><rect x="96" y="442" width="1" height="16" fill="#cc0000"/><rect x="100" y="439" width="1" height="19" fill="#6aa84f"/><rect x="104" y="423" width="1" height="14" fill="#6aa84f"/><rect x="108" y="423" width="1" height="3" fill="#cc0000"/><rect x="112" y="419" width="1" height="7" fill="#6aa84f"/><rect x="116" y="419" width="1" height="13" fill="#cc0000"/><rect x="120" y="430" width="1" height="2" fill="#6aa84f"/><rect x="124" y="430" width="1" height="7" fill="#cc0000"/><rect x="128" y="405" width="1" height="32" fill="#6aa84f"/><rect x="132" y="405" width="1" height="16" fill="#cc0000"/><rect x="140" y="414" width="1" height="7" fill="#6aa84f"/><rect x="144" y="414" width="1" height="7" fill="#cc0000"/><rect x="148" y="419" width="1" height="2" fill="#6aa84f"/><rect x="152" y="419" width="1" height="11" fill="#cc0000"/><rect x="156" y="422" width="1" height="8" fill="#6aa84f"/><rect x="160" y="437" width="1" height="5" fill="#cc0000"/><rect x="164" y="444" width="1" height="13" fill="#cc0000"/><rect x="168" y="428" width="1" height="30" fill="#6aa84f"/><rect x="172" y="428" width="1" height="44" fill="#cc0000"/><rect x="176" y="434" width="1" height="39" fill="#6aa84f"/><rect x="180" y="384" width="1" height="40" fill="#6aa84f"/><rect x="184" y="354" width="1" height="28" fill="#6aa84f"/><rect x="188" y="340" width="1" height="12" fill="#6aa84f"/><rect x="192" y="334" width="1" height="4" fill="#6aa84f"/><rect x="196" y="334" width="1" height="11" fill="#cc0000"/><rect x="200" y="347" width="1" height="27" fill="#cc0000"/><rect x="204" y="362" width="1" height="12" fill="#6aa84f"/><rect x="208" y="354" width="1" height="6" fill="#6aa84f"/><rect x="216" y="354" width="1" height="2" fill="#cc0000"/><rect x="224" y="346" width="1" height="17" fill="#6aa84f"/><rect x="232" y="346" width="1" height="9" fill="#cc0000"/><rect x="236" y="357" width="1" height="2" fill="#cc0000"/><rect x="240" y="355" width="1" height="1" fill="#6aa84f"/><rect x="244" y="355" width="1" height="3" fill="#cc0000"/><rect x="248" y="346" width="1" height="11" fill="#6aa84f"/><rect x="252" y="346" width="1" height="19" fill="#cc0000"/><rect x="256" y="367" width="1" height="2" fill="#cc0000"/><rect x="260" y="371" width="1" height="32" fill="#cc0000"/><rect x="264" y="397" width="1" height="6" fill="#6aa84f"/><rect x="268" y="397" width="1" height="16" fill="#cc0000"/><rect x="272" y="400" width="1" height="13" fill="#6aa84f"/><rect x="276" y="394" width="1" height="4" fill="#6aa84f"/><rect x="280" y="390" width="1" height="1" fill="#cc0000"/><rect x="284" y="359" width="1" height="31" fill="#6aa84f"/><rect x="288" y="324" width="1" height="33" fill="#6aa84f"/><rect x="292" y="315" width="1" height="7" fill="#6aa84f"/><rect x="296" y="315" width="1" height="10" fill="#cc0000"/><rect x="300" y="288" width="1" height="44" fill="#6aa84f"/><rect x="303" y="273" width="1" height="13" fill="#6aa84f"/><rect x="307" y="251" width="1" height="20" fill="#6aa84f"/><rect x="311" y="251" width="1" height="22" fill="#cc0000"/><rect x="315" y="260" width="1" height="16" fill="#6aa84f"/><rect x="319" y="239" width="1" height="19" fill="#6aa84f"/><rect x="323" y="239" width="1" height="23" fill="#cc0000"/><rect x="327" y="264" width="1" height="4" fill="#cc0000"/><rect x="331" y="258" width="1" height="30" fill="#cc0000"/><rect x="335" y="271" width="1" height="17" fill="#6aa84f"/><rect x="339" y="240" width="1" height="30" fill="#6aa84f"/><rect x="343" y="237" width="1" height="2" fill="#6aa84f"/><rect x="347" y="210" width="1" height="25" fill="#6aa84f"/><rect x="351" y="210" width="1" height="8" fill="#cc0000"/><rect x="355" y="219" width="1" height="17" fill="#cc0000"/><rect x="359" y="238" width="1" height="21" fill="#cc0000"/><rect x="363" y="255" width="1" height="4" fill="#6aa84f"/><rect x="367" y="255" width="1" height="10" fill="#cc0000"/><rect x="371" y="267" width="1" height="25" fill="#cc0000"/><rect x="375" y="293" width="1" height="2" fill="#cc0000"/><rect x="379" y="297" width="1" height="3" fill="#cc0000"/><rect x="383" y="300" width="1" height="1" fill="#6aa84f"/><rect x="387" y="300" width="1" height="15" fill="#cc0000"/><rect x="391" y="268" width="1" height="36" fill="#6aa84f"/><rect x="395" y="268" width="1" height="6" fill="#cc0000"/><rect x="399" y="276" width="1" height="16" fill="#cc0000"/><rect x="403" y="285" width="1" height="7" fill="#6aa84f"/><rect x="407" y="276" width="1" height="7" fill="#6aa84f"/><rect x="411" y="235" width="1" height="28" fill="#cc0000"/><rect x="415" y="265" width="1" height="9" fill="#cc0000"/><rect x="419" y="276" width="1" height="12" fill="#cc0000"/><rect x="423" y="290" width="1" height="14" fill="#cc0000"/><rect x="427" y="306" width="1" height="6" fill="#cc0000"/><rect x="431" y="276" width="1" height="27" fill="#cc0000"/><rect x="435" y="300" width="1" height="3" fill="#6aa84f"/><rect x="439" y="295" width="1" height="3" fill="#6aa84f"/><rect x="443" y="295" width="1" height="2" fill="#cc0000"/><rect x="447" y="299" width="1" height="21" fill="#cc0000"/><rect x="451" y="313" width="1" height="7" fill="#6aa84f"/><rect x="455" y="310" width="1" height="1" fill="#6aa84f"/><rect x="459" y="295" width="1" height="13" fill="#6aa84f"/><rect x="463" y="295" width="1" height="27" fill="#cc0000"/><rect x="467" y="319" width="1" height="3" fill="#6aa84f"/><rect x="483" y="302" width="1" height="10" fill="#6aa84f"/><rect x="487" y="273" width="1" height="27" fill="#6aa84f"/><rect x="491" y="273" width="1" height="10" fill="#cc0000"/><rect x="495" y="285" width="1" height="18" fill="#cc0000"/><rect x="499" y="305" width="1" height="22" fill="#cc0000"/><rect x="503" y="329" width="1" height="22" fill="#cc0000"/><rect x="507" y="338" width="1" height="13" fill="#6aa84f"/><rect x="511" y="319" width="1" height="15" fill="#6aa84f"/><rect x="515" y="319" width="1" height="21" fill="#cc0000"/><rect x="519" y="322" width="1" height="18" fill="#6aa84f"/><rect x="523" y="322" width="1" height="1" fill="#cc0000"/><rect x="527" y="324" width="1" height="16" fill="#cc0000"/><rect x="531" y="340" width="1" height="17" fill="#cc0000"/><rect x="535" y="350" width="1" height="7" fill="#6aa84f"/><rect x="539" y="350" width="1" height="4" fill="#cc0000"/><rect x="543" y="351" width="1" height="3" fill="#6aa84f"/><rect x="546" y="337" width="1" height="12" fill="#6aa84f"/><rect x="550" y="332" width="1" height="10" fill="#6aa84f"/><rect x="562" y="334" width="1" height="1" fill="#cc0000"/><rect x="566" y="309" width="1" height="24" fill="#6aa84f"/><rect x="570" y="315" width="1" height="8" fill="#cc0000"/><rect x="574" y="304" width="1" height="19" fill="#6aa84f"/><rect x="578" y="241" width="1" height="61" fill="#6aa84f"/><rect x="582" y="241" width="1" height="20" fill="#cc0000"/><rect x="586" y="214" width="1" height="47" fill="#6aa84f"/><rect x="590" y="133" width="1" height="76" fill="#6aa84f"/><rect x="594" y="113" width="1" height="18" fill="#6aa84f"/><rect x="598" y="113" width="1" height="69" fill="#cc0000"/><rect x="602" y="167" width="1" height="15" fill="#6aa84f"/><rect x="606" y="167" width="1" height="43" fill="#cc0000"/><rect x="610" y="212" width="1" height="25" fill="#cc0000"/><rect x="614" y="220" width="1" height="17" fill="#6aa84f"/><rect x="618" y="220" width="1" height="29" fill="#cc0000"/><rect x="622" y="251" width="1" height="6" fill="#cc0000"/><rect x="626" y="250" width="1" height="7" fill="#6aa84f"/><rect x="630" y="250" width="1" height="10" fill="#cc0000"/><rect x="634" y="262" width="1" height="19" fill="#cc0000"/><rect x="638" y="275" width="1" height="6" fill="#6aa84f"/><rect x="642" y="257" width="1" height="16" fill="#6aa84f"/><rect x="646" y="257" width="1" height="13" fill="#cc0000"/><rect x="650" y="272" width="1" height="20" fill="#cc0000"/><rect x="658" y="285" width="1" height="5" fill="#6aa84f"/><rect x="662" y="285" width="1" height="3" fill="#cc0000"/><rect x="666" y="289" width="1" height="24" fill="#cc0000"/><rect x="670" y="315" width="1" height="12" fill="#cc0000"/><rect x="674" y="329" width="1" height="9" fill="#cc0000"/><rect x="678" y="336" width="1" height="2" fill="#6aa84f"/><rect x="682" y="336" width="1" height="4" fill="#cc0000"/><rect x="686" y="343" width="1" height="1" fill="#cc0000"/><rect x="690" y="331" width="1" height="12" fill="#6aa84f"/><rect x="694" y="325" width="1" height="4" fill="#6aa84f"/><rect x="698" y="325" width="1" height="6" fill="#cc0000"/><rect x="702" y="333" width="1" height="32" fill="#cc0000"/><rect x="706" y="364" width="1" height="1" fill="#6aa84f"/><rect x="710" y="356" width="1" height="3" fill="#6aa84f"/><rect x="714" y="356" width="1" height="23" fill="#cc0000"/><rect x="718" y="374" width="1" height="5" fill="#6aa84f"/><rect x="722" y="369" width="1" height="3" fill="#6aa84f"/><rect x="726" y="369" width="1" height="26" fill="#cc0000"/><rect x="730" y="392" width="1" height="3" fill="#6aa84f"/><rect x="734" y="378" width="1" height="12" fill="#6aa84f"/><rect x="738" y="378" width="1" height="4" fill="#cc0000"/><rect x="742" y="384" width="1" height="12" fill="#cc0000"/><rect x="746" y="371" width="1" height="27" fill="#6aa84f"/><rect x="750" y="376" width="1" height="17" fill="#cc0000"/><rect x="754" y="390" width="1" height="3" fill="#6aa84f"/><rect x="758" y="390" width="1" height="5" fill="#cc0000"/><rect x="762" y="397" width="1" height="11" fill="#cc0000"/><rect x="766" y="402" width="1" height="6" fill="#6aa84f"/><rect x="770" y="407" width="1" height="1" fill="#cc0000"/><rect x="774" y="410" width="1" height="3" fill="#cc0000"/><rect x="778" y="408" width="1" height="5" fill="#6aa84f"/><rect x="785" y="385" width="1" height="21" fill="#6aa84f"/><rect x="789" y="376" width="1" height="19" fill="#cc0000"/><rect x="793" y="367" width="1" height="28" fill="#6aa84f"/><rect x="801" y="366" width="1" height="1" fill="#6aa84f"/><rect x="805" y="366" width="1" height="3" fill="#cc0000"/><rect x="809" y="351" width="1" height="36" fill="#cc0000"/><rect x="813" y="389" width="1" height="15" fill="#cc0000"/><rect x="821" y="392" width="1" height="11" fill="#6aa84f"/><rect x="825" y="392" width="1" height="4" fill="#cc0000"/><rect x="829" y="398" width="1" height="15" fill="#cc0000"/><rect x="833" y="415" width="1" height="13" fill="#cc0000"/><rect x="837" y="430" width="1" height="1" fill="#cc0000"/><rect x="841" y="432" width="1" height="8" fill="#cc0000"/><rect x="845" y="429" width="1" height="10" fill="#6aa84f"/><rect x="849" y="390" width="1" height="38" fill="#6aa84f"/><rect x="853" y="390" width="1" height="10" fill="#cc0000"/><rect x="857" y="394" width="1" height="6" fill="#6aa84f"/><rect x="861" y="394" width="1" height="13" fill="#cc0000"/><rect x="865" y="378" width="1" height="29" fill="#6aa84f"/><rect x="869" y="380" width="1" height="4" fill="#cc0000"/><rect x="873" y="380" width="1" height="4" fill="#6aa84f"/><rect x="877" y="380" width="1" height="16" fill="#cc0000"/><rect x="885" y="397" width="1" height="15" fill="#cc0000"/><rect x="889" y="414" width="1" height="10" fill="#cc0000"/><rect x="893" y="425" width="1" height="9" fill="#cc0000"/><rect x="897" y="436" width="1" height="4" fill="#cc0000"/><rect x="901" y="424" width="1" height="15" fill="#6aa84f"/><rect x="905" y="406" width="1" height="17" fill="#6aa84f"/><rect x="909" y="388" width="1" height="18" fill="#6aa84f"/><rect x="913" y="387" width="1" height="1" fill="#6aa84f"/><rect x="917" y="371" width="1" height="14" fill="#6aa84f"/><rect x="921" y="338" width="1" height="31" fill="#6aa84f"/><rect x="925" y="338" width="1" height="24" fill="#cc0000"/><rect x="929" y="364" width="1" height="19" fill="#cc0000"/><rect x="937" y="384" width="1" height="20" fill="#cc0000"/><rect x="941" y="406" width="1" height="7" fill="#cc0000"/><rect x="945" y="408" width="1" height="5" fill="#6aa84f"/><rect x="949" y="406" width="1" height="6" fill="#6aa84f"/><rect x="953" y="406" width="1" height="24" fill="#cc0000"/><rect x="957" y="432" width="1" height="7" fill="#cc0000"/><rect x="961" y="432" width="1" height="7" fill="#6aa84f"/><rect x="965" y="428" width="1" height="2" fill="#6aa84f"/><rect x="969" y="426" width="1" height="4" fill="#6aa84f"/><rect x="973" y="420" width="1" height="4" fill="#6aa84f"/><rect x="981" y="411" width="1" height="8" fill="#6aa84f"/><rect x="985" y="411" width="1" height="37" fill="#cc0000"/><rect x="989" y="427" width="1" height="21" fill="#6aa84f"/><rect x="993" y="422" width="1" height="3" fill="#6aa84f"/><rect x="997" y="415" width="1" height="5" fill="#6aa84f"/><rect x="1001" y="412" width="1" height="1" fill="#6aa84f"/><rect x="1005" y="412" width="1" height="7" fill="#cc0000"/><rect x="1009" y="424" width="1" height="5" fill="#cc0000"/><rect x="1013" y="421" width="1" height="8" fill="#6aa84f"/><rect x="1017" y="420" width="1" height="1" fill="#6aa84f"/><rect x="1021" y="402" width="1" height="16" fill="#6aa84f"/><rect x="1025" y="402" width="1" height="26" fill="#cc0000"/><rect x="1028" y="430" width="1" height="13" fill="#cc0000"/><rect x="1032" y="441" width="1" height="2" fill="#6aa84f"/><rect x="1036" y="440" width="1" height="8" fill="#cc0000"/><rect x="1040" y="449" width="1" height="11" fill="#cc0000"/><rect x="1044" y="459" width="1" height="1" fill="#6aa84f"/><rect x="1048" y="459" width="1" height="1" fill="#cc0000"/><rect x="1052" y="462" width="1" height="3" fill="#cc0000"/><rect x="1056" y="462" width="1" height="3" fill="#6aa84f"/><rect x="1060" y="462" width="1" height="1" fill="#cc0000"/><rect x="1068" y="465" width="1" height="3" fill="#cc0000"/><rect x="1072" y="469" width="1" height="10" fill="#cc0000"/><rect x="1076" y="472" width="1" height="8" fill="#6aa84f"/><rect x="1080" y="456" width="1" height="14" fill="#6aa84f"/><rect x="1084" y="456" width="1" height="8" fill="#cc0000"/><rect x="1088" y="461" width="1" height="13" fill="#cc0000"/><rect x="1096" y="477" width="1" height="6" fill="#cc0000"/><rect x="1100" y="476" width="1" height="6" fill="#6aa84f"/><rect x="1104" y="476" width="1" height="4" fill="#cc0000"/><rect x="1108" y="481" width="1" height="7" fill="#cc0000"/><rect x="1112" y="485" width="1" height="3" fill="#6aa84f"/><rect x="1116" y="482" width="1" height="9" fill="#cc0000"/><rect x="1120" y="489" width="1" height="2" fill="#6aa84f"/><rect x="1124" y="446" width="1" height="41" fill="#6aa84f"/><rect x="1128" y="459" width="1" height="9" fill="#cc0000"/><rect x="1132" y="459" width="1" height="9" fill="#6aa84f"/><rect x="1136" y="459" width="1" height="4" fill="#cc0000"/><rect x="1140" y="465" width="1" height="1" fill="#cc0000"/><rect x="1144" y="461" width="1" height="4" fill="#6aa84f"/><rect x="1148" y="463" width="1" height="19" fill="#cc0000"/><rect x="1152" y="458" width="1" height="24" fill="#6aa84f"/><rect x="1160" y="459" width="1" height="6" fill="#cc0000"/><rect x="1164" y="467" width="1" height="8" fill="#cc0000"/><rect x="1168" y="485" width="1" height="1" fill="#6aa84f"/><rect x="1172" y="485" width="1" height="5" fill="#cc0000"/><rect x="1176" y="485" width="1" height="5" fill="#6aa84f"/><rect x="1180" y="475" width="1" height="8" fill="#6aa84f"/><rect x="1184" y="467" width="1" height="6" fill="#6aa84f"/><rect x="1192" y="442" width="1" height="26" fill="#6aa84f"/></g>
<path d="M12.6,307.2C15.5,308.0 23.7,309.8 30.0,312.2C36.3,314.6 42.7,318.5 50.2,321.3C57.8,324.1 66.9,326.1 75.3,328.8C83.7,331.5 92.0,334.5 100.4,337.3C108.8,340.1 117.1,343.0 125.5,345.4C133.9,347.8 143.2,349.9 150.6,351.4C158.0,352.9 164.4,353.4 170.0,354.3C175.6,355.2 179.5,356.3 184.3,356.9C189.1,357.5 193.8,357.6 198.6,357.9C203.4,358.2 208.2,358.5 212.9,358.9C217.7,359.2 222.3,359.6 227.1,360.0C231.8,360.4 236.6,360.7 241.4,361.1C246.2,361.5 250.9,362.0 255.7,362.6C260.5,363.2 266.2,364.4 270.0,365.0C273.8,365.6 275.8,365.9 278.6,366.1C281.5,366.3 284.2,366.4 287.1,366.4C290.0,366.4 292.4,366.3 295.7,366.0C299.0,365.7 302.8,365.2 307.1,364.6C311.4,364.0 316.6,363.1 321.4,362.3C326.2,361.5 331.6,360.9 335.7,360.0C339.8,359.1 342.4,357.9 345.7,357.1C349.0,356.3 352.1,355.7 355.7,355.0C359.3,354.3 362.8,353.6 367.1,353.1C371.4,352.6 376.6,352.4 381.4,352.1C386.2,351.8 390.4,351.6 395.7,351.1C400.9,350.6 406.9,349.4 412.9,348.9C418.8,348.4 424.7,348.3 431.4,347.9C438.1,347.5 446.9,346.8 452.9,346.4C458.8,346.0 462.4,345.7 467.1,345.4C471.9,345.1 477.1,344.9 481.4,344.6C485.7,344.3 488.6,344.0 492.9,343.8C497.2,343.6 502.6,343.7 507.1,343.6C511.6,343.6 513.3,343.5 520.0,343.5C526.7,343.5 539.0,343.8 547.1,343.6C555.2,343.5 563.4,343.1 568.6,342.6C573.9,342.1 575.5,341.2 578.6,340.7C581.7,340.1 584.5,340.2 587.1,339.3C589.7,338.4 591.4,336.7 594.3,335.4C597.2,334.1 600.7,332.9 604.3,331.7C607.9,330.5 611.9,329.2 615.7,328.3C619.5,327.4 623.1,327.1 627.1,326.4C631.1,325.7 635.5,324.9 640.0,324.3C644.5,323.7 649.5,323.1 654.3,322.6C659.1,322.2 663.8,321.9 668.6,321.6C673.4,321.4 678.5,321.2 682.9,321.1C687.3,321.0 691.7,321.1 695.0,321.1C698.3,321.2 699.2,321.1 702.9,321.4C706.6,321.6 712.4,322.1 717.1,322.6C721.9,323.1 726.6,323.8 731.4,324.3C736.2,324.8 740.9,325.2 745.7,325.7C750.5,326.2 755.2,326.8 760.0,327.4C764.8,328.0 769.5,328.8 774.3,329.3C779.1,329.8 783.8,330.0 788.6,330.3C793.4,330.6 798.1,331.0 802.9,331.4C807.6,331.8 811.9,332.0 817.1,332.5C822.3,333.0 829.0,333.7 834.3,334.3C839.5,334.9 843.8,335.8 848.6,336.4C853.4,337.0 858.1,337.5 862.9,337.9C867.6,338.3 872.4,338.4 877.1,338.9C881.9,339.4 886.6,340.0 891.4,340.7C896.2,341.4 900.9,342.6 905.7,343.1C910.5,343.7 915.2,343.8 920.0,344.0C924.8,344.2 929.5,344.1 934.3,344.6C939.1,345.1 943.8,346.1 948.6,346.9C953.4,347.7 958.1,348.5 962.9,349.3C967.6,350.1 972.4,350.9 977.1,351.7C981.9,352.5 986.6,353.3 991.4,354.0C996.2,354.7 1000.9,355.1 1005.7,355.7C1010.5,356.3 1016.0,357.2 1020.0,357.9C1024.0,358.6 1025.8,359.0 1030.0,359.7C1034.2,360.4 1040.0,361.1 1045.0,362.0C1050.0,362.9 1053.0,363.3 1060.0,365.0C1067.0,366.7 1078.7,369.8 1087.0,372.0C1095.3,374.2 1101.7,375.8 1110.0,378.0C1118.3,380.2 1127.5,382.9 1137.0,385.5C1146.5,388.1 1157.6,391.1 1167.0,393.5C1176.4,395.9 1189.2,398.7 1193.6,399.7" stroke="#bf9000" stroke-width="2.5" fill="none" stroke-linejoin="round" stroke-linecap="round" clip-path="url(#cpMain)"/>
<g shape-rendering="crispEdges"><rect x="13" y="86" width="594" height="2" fill="#ff0000"/><rect x="598" y="85" width="33" height="2" fill="#ff0000"/><rect x="15" y="438" width="1182" height="2" fill="#ff0000"/><rect x="60" y="506" width="1137" height="2" fill="#ff0000"/><rect x="717" y="395" width="320" height="2" fill="#ff0000"/><rect x="1028" y="453" width="169" height="2" fill="#ff0000"/><rect x="1064" y="482" width="133" height="2" fill="#ff0000"/><rect x="925" y="313" width="29" height="2" fill="#ff0000"/><rect x="1115" y="429" width="86" height="2" fill="#800040"/></g>
<text x="627.5" y="66.1" font-size="18.7" font-weight="bold" fill="#0a0a0a" textLength="189.3" lengthAdjust="spacingAndGlyphs" stroke="#fff" stroke-width="0.22">USD/ZAR Daily Chart</text>
<text x="1096" y="67" font-size="18.7" font-weight="bold" fill="#0a0a0a" textLength="118" lengthAdjust="spacingAndGlyphs" stroke="#fff" stroke-width="0.22">1-2 day view</text>
<text x="444" y="82.8" font-size="18.2" font-weight="bold" fill="#ff0000" textLength="74.6" lengthAdjust="spacingAndGlyphs" stroke="#fff" stroke-width="0.22">19.9185</text>
<text x="634" y="92.6" font-size="18.2" font-weight="bold" fill="#ff0000" textLength="74.8" lengthAdjust="spacingAndGlyphs" stroke="#fff" stroke-width="0.22">19.9295</text>
<text x="80.4" y="107.6" font-size="18.2" font-weight="bold" fill="#ff0000" textLength="285.6" lengthAdjust="spacingAndGlyphs" font-style="italic" stroke="#fff" stroke-width="0.22">19.9185 - June 2023 year high</text>
<text x="881.7" y="141.4" font-size="18.2" font-weight="bold" fill="#800040" textLength="325.9" lengthAdjust="spacingAndGlyphs" stroke="#fff" stroke-width="0.22">17.5625 - 38.2% ret of Aug-Oct fall</text>
<text x="881.7" y="161.4" font-size="18.2" font-weight="bold" fill="#800040" textLength="306.3" lengthAdjust="spacingAndGlyphs" stroke="#fff" stroke-width="0.22">17.7165 - 50% ret of Aug-Oct fall</text>
<text x="881.7" y="181.4" font-size="18.2" font-weight="bold" fill="#800040" textLength="325.9" lengthAdjust="spacingAndGlyphs" stroke="#fff" stroke-width="0.22">17.8700 - 61.8% ret of Aug-Oct fall</text>
<text x="658.6" y="246.7" font-size="18.2" font-weight="bold" fill="#1f4e8c" textLength="159.4" lengthAdjust="spacingAndGlyphs" stroke="#fff" stroke-width="0.22">21d weighted MA</text>
<text x="714.3" y="318.2" font-size="18.2" font-weight="bold" fill="#b8651a" textLength="170.3" lengthAdjust="spacingAndGlyphs" stroke="#fff" stroke-width="0.22">233d weighted MA</text>
<text x="956" y="319.6" font-size="18.2" font-weight="bold" fill="#ff0000" textLength="74.4" lengthAdjust="spacingAndGlyphs" stroke="#fff" stroke-width="0.22">18.3580</text>
<text x="1046" y="402" font-size="18.2" font-weight="bold" fill="#ff0000" textLength="74.4" lengthAdjust="spacingAndGlyphs" stroke="#fff" stroke-width="0.22">17.8000</text>
<text x="616.5" y="436.1" font-size="23.5" font-weight="bold" fill="#ff0000" textLength="93.4" lengthAdjust="spacingAndGlyphs" stroke="#fff" stroke-width="0.45">17.5000</text>
<text x="1203.1" y="435.6" font-size="18.2" font-weight="bold" fill="#800040" textLength="76" lengthAdjust="spacingAndGlyphs" stroke="#fff" stroke-width="0.22">17.5625</text>
<text x="1199" y="461.8" font-size="24" font-weight="bold" fill="#ff0000" textLength="94" lengthAdjust="spacingAndGlyphs" stroke="#fff" stroke-width="0.45">17.4000</text>
<text x="1201.5" y="490.6" font-size="24" font-weight="bold" fill="#ff0000" textLength="94" lengthAdjust="spacingAndGlyphs" stroke="#fff" stroke-width="0.45">17.2000</text>
<text x="1201.5" y="518.1" font-size="24" font-weight="bold" fill="#ff0000" textLength="94" lengthAdjust="spacingAndGlyphs" stroke="#fff" stroke-width="0.45">17.0315</text>
<g fill="#1c5e20"><rect x="0.00" y="-3.15" width="31.35" height="6.3" rx="1.4" transform="translate(1245.4,78.3) rotate(-50.83)"/><rect x="0.00" y="-3.15" width="26.63" height="6.3" rx="1.4" transform="translate(1242.4,55.1) rotate(-6.10)"/><rect x="-3.10" y="-3.15" width="26.59" height="6.3" rx="1.4" transform="translate(1265.8,52.6) rotate(84.87)"/></g>
<g clip-path="url(#cpInd)">
<g fill="#ff2a2a" fill-opacity="0.85"><rect x="12.3" y="640" width="1.5" height="7.7"/><rect x="16.3" y="640" width="1.5" height="9.4"/><rect x="20.3" y="640" width="1.5" height="12.3"/><rect x="24.3" y="640" width="1.5" height="16.3"/><rect x="28.3" y="640" width="1.5" height="19.7"/><rect x="32.3" y="640" width="1.5" height="22.6"/><rect x="36.3" y="640" width="1.5" height="26.3"/><rect x="40.3" y="640" width="1.5" height="30.3"/><rect x="44.3" y="640" width="1.5" height="33.9"/><rect x="48.3" y="640" width="1.5" height="37.5"/><rect x="52.3" y="640" width="1.5" height="40.2"/><rect x="56.3" y="640" width="1.5" height="42.2"/><rect x="60.3" y="640" width="1.5" height="42.4"/><rect x="63.3" y="640" width="1.5" height="40.6"/><rect x="67.3" y="640" width="1.5" height="37.6"/><rect x="71.3" y="640" width="1.5" height="33.5"/><rect x="75.3" y="640" width="1.5" height="28.4"/><rect x="79.3" y="640" width="1.5" height="22.0"/><rect x="83.3" y="640" width="1.5" height="15.5"/><rect x="87.3" y="640" width="1.5" height="8.9"/><rect x="91.3" y="640" width="1.5" height="4.7"/><rect x="95.3" y="640" width="1.5" height="2.0"/><rect x="99.3" y="640" width="1.5" height="0.7"/><rect x="103.3" y="637.6" width="1.5" height="2.4"/><rect x="107.3" y="633.9" width="1.5" height="6.1"/><rect x="111.3" y="631.0" width="1.5" height="9.0"/><rect x="115.3" y="629.6" width="1.5" height="10.4"/><rect x="119.3" y="628.5" width="1.5" height="11.5"/><rect x="123.3" y="627.7" width="1.5" height="12.3"/><rect x="127.3" y="625.7" width="1.5" height="14.3"/><rect x="131.3" y="623.9" width="1.5" height="16.1"/><rect x="135.3" y="623.2" width="1.5" height="16.8"/><rect x="139.3" y="622.6" width="1.5" height="17.4"/><rect x="143.3" y="622.3" width="1.5" height="17.7"/><rect x="147.3" y="623.2" width="1.5" height="16.8"/><rect x="151.3" y="624.4" width="1.5" height="15.6"/><rect x="155.3" y="627.2" width="1.5" height="12.8"/><rect x="159.3" y="630.3" width="1.5" height="9.7"/><rect x="163.3" y="633.7" width="1.5" height="6.3"/><rect x="167.3" y="637.1" width="1.5" height="2.9"/><rect x="171.3" y="640" width="1.5" height="0.0"/><rect x="175.3" y="640" width="1.5" height="1.2"/><rect x="179.3" y="637.8" width="1.5" height="2.2"/><rect x="183.3" y="629.4" width="1.5" height="10.6"/><rect x="187.3" y="619.4" width="1.5" height="20.6"/><rect x="191.3" y="611.6" width="1.5" height="28.4"/><rect x="195.3" y="605.2" width="1.5" height="34.8"/><rect x="199.3" y="603.3" width="1.5" height="36.7"/><rect x="203.3" y="601.8" width="1.5" height="38.2"/><rect x="207.3" y="600.8" width="1.5" height="39.2"/><rect x="211.3" y="602.5" width="1.5" height="37.5"/><rect x="215.3" y="604.7" width="1.5" height="35.3"/><rect x="219.3" y="607.3" width="1.5" height="32.7"/><rect x="223.3" y="609.3" width="1.5" height="30.7"/><rect x="227.3" y="610.9" width="1.5" height="29.1"/><rect x="231.3" y="612.9" width="1.5" height="27.1"/><rect x="235.3" y="614.9" width="1.5" height="25.1"/><rect x="239.3" y="615.9" width="1.5" height="24.1"/><rect x="243.3" y="617.0" width="1.5" height="23.0"/><rect x="247.3" y="619.0" width="1.5" height="21.0"/><rect x="251.3" y="622.1" width="1.5" height="17.9"/><rect x="255.3" y="627.0" width="1.5" height="13.0"/><rect x="259.3" y="631.6" width="1.5" height="8.4"/><rect x="263.3" y="636.1" width="1.5" height="3.9"/><rect x="267.3" y="640" width="1.5" height="1.8"/><rect x="271.3" y="640" width="1.5" height="6.3"/><rect x="275.3" y="640" width="1.5" height="8.5"/><rect x="279.3" y="640" width="1.5" height="9.3"/><rect x="283.3" y="640" width="1.5" height="8.1"/><rect x="287.3" y="640" width="1.5" height="1.3"/><rect x="291.3" y="632.8" width="1.5" height="7.2"/><rect x="295.3" y="623.3" width="1.5" height="16.7"/><rect x="299.3" y="614.3" width="1.5" height="25.7"/><rect x="302.3" y="607.6" width="1.5" height="32.4"/><rect x="306.3" y="599.8" width="1.5" height="40.2"/><rect x="310.3" y="592.7" width="1.5" height="47.3"/><rect x="314.3" y="587.7" width="1.5" height="52.3"/><rect x="318.3" y="584.3" width="1.5" height="55.7"/><rect x="322.3" y="583.4" width="1.5" height="56.6"/><rect x="326.3" y="585.0" width="1.5" height="55.0"/><rect x="330.3" y="587.9" width="1.5" height="52.1"/><rect x="334.3" y="592.0" width="1.5" height="48.0"/><rect x="338.3" y="593.8" width="1.5" height="46.2"/><rect x="342.3" y="593.8" width="1.5" height="46.2"/><rect x="346.3" y="592.1" width="1.5" height="47.9"/><rect x="350.3" y="590.5" width="1.5" height="49.5"/><rect x="354.3" y="591.4" width="1.5" height="48.6"/><rect x="358.3" y="594.2" width="1.5" height="45.8"/><rect x="362.3" y="598.9" width="1.5" height="41.1"/><rect x="366.3" y="604.2" width="1.5" height="35.8"/><rect x="370.3" y="609.6" width="1.5" height="30.4"/><rect x="374.3" y="618.6" width="1.5" height="21.4"/><rect x="378.3" y="628.2" width="1.5" height="11.8"/><rect x="382.3" y="637.5" width="1.5" height="2.5"/><rect x="386.3" y="640" width="1.5" height="3.6"/><rect x="390.3" y="640" width="1.5" height="6.4"/><rect x="394.3" y="640" width="1.5" height="5.7"/><rect x="398.3" y="640" width="1.5" height="7.2"/><rect x="402.3" y="640" width="1.5" height="8.9"/><rect x="406.3" y="640" width="1.5" height="8.7"/><rect x="410.3" y="640" width="1.5" height="5.5"/><rect x="414.3" y="640" width="1.5" height="3.2"/><rect x="418.3" y="640" width="1.5" height="2.3"/><rect x="422.3" y="640" width="1.5" height="5.4"/><rect x="426.3" y="640" width="1.5" height="8.6"/><rect x="430.3" y="640" width="1.5" height="10.8"/><rect x="434.3" y="640" width="1.5" height="12.8"/><rect x="438.3" y="640" width="1.5" height="13.8"/><rect x="442.3" y="640" width="1.5" height="15.1"/><rect x="446.3" y="640" width="1.5" height="17.4"/><rect x="450.3" y="640" width="1.5" height="19.1"/><rect x="454.3" y="640" width="1.5" height="19.8"/><rect x="458.3" y="640" width="1.5" height="19.4"/><rect x="462.3" y="640" width="1.5" height="18.9"/><rect x="466.3" y="640" width="1.5" height="19.2"/><rect x="470.3" y="640" width="1.5" height="19.4"/><rect x="474.3" y="640" width="1.5" height="19.1"/><rect x="478.3" y="640" width="1.5" height="18.4"/><rect x="482.3" y="640" width="1.5" height="15.6"/><rect x="486.3" y="640" width="1.5" height="10.9"/><rect x="490.3" y="640" width="1.5" height="6.7"/><rect x="494.3" y="640" width="1.5" height="4.3"/><rect x="498.3" y="640" width="1.5" height="7.0"/><rect x="502.3" y="640" width="1.5" height="10.1"/><rect x="506.3" y="640" width="1.5" height="13.3"/><rect x="510.3" y="640" width="1.5" height="14.8"/><rect x="514.3" y="640" width="1.5" height="16.0"/><rect x="518.3" y="640" width="1.5" height="16.0"/><rect x="522.3" y="640" width="1.5" height="16.6"/><rect x="526.3" y="640" width="1.5" height="18.6"/><rect x="530.3" y="640" width="1.5" height="20.8"/><rect x="534.3" y="640" width="1.5" height="22.0"/><rect x="538.3" y="640" width="1.5" height="21.8"/><rect x="542.3" y="640" width="1.5" height="21.2"/><rect x="545.3" y="640" width="1.5" height="20.4"/><rect x="549.3" y="640" width="1.5" height="19.3"/><rect x="553.3" y="640" width="1.5" height="17.7"/><rect x="557.3" y="640" width="1.5" height="15.8"/><rect x="561.3" y="640" width="1.5" height="13.3"/><rect x="565.3" y="640" width="1.5" height="10.0"/><rect x="569.3" y="640" width="1.5" height="5.7"/><rect x="573.3" y="639.3" width="1.5" height="0.7"/><rect x="577.3" y="630.8" width="1.5" height="9.2"/><rect x="581.3" y="622.1" width="1.5" height="17.9"/><rect x="585.3" y="611.6" width="1.5" height="28.4"/><rect x="589.3" y="596.8" width="1.5" height="43.2"/><rect x="593.3" y="582.2" width="1.5" height="57.8"/><rect x="597.3" y="571.6" width="1.5" height="68.4"/><rect x="601.3" y="567.3" width="1.5" height="72.7"/><rect x="605.3" y="567.3" width="1.5" height="72.7"/><rect x="609.3" y="573.3" width="1.5" height="66.7"/><rect x="613.3" y="583.4" width="1.5" height="56.6"/><rect x="617.3" y="593.7" width="1.5" height="46.3"/><rect x="621.3" y="603.3" width="1.5" height="36.7"/><rect x="625.3" y="614.3" width="1.5" height="25.7"/><rect x="629.3" y="626.4" width="1.5" height="13.6"/><rect x="633.3" y="639.7" width="1.5" height="0.3"/><rect x="637.3" y="640" width="1.5" height="8.2"/><rect x="641.3" y="640" width="1.5" height="13.2"/><rect x="645.3" y="640" width="1.5" height="15.3"/><rect x="649.3" y="640" width="1.5" height="20.0"/><rect x="653.3" y="640" width="1.5" height="23.8"/><rect x="657.3" y="640" width="1.5" height="26.8"/><rect x="661.3" y="640" width="1.5" height="28.1"/><rect x="665.3" y="640" width="1.5" height="31.5"/><rect x="669.3" y="640" width="1.5" height="36.7"/><rect x="673.3" y="640" width="1.5" height="44.0"/><rect x="677.3" y="640" width="1.5" height="48.9"/><rect x="681.3" y="640" width="1.5" height="52.5"/><rect x="685.3" y="640" width="1.5" height="55.1"/><rect x="689.3" y="640" width="1.5" height="56.2"/><rect x="693.3" y="640" width="1.5" height="53.9"/><rect x="697.3" y="640" width="1.5" height="53.1"/><rect x="701.3" y="640" width="1.5" height="53.1"/><rect x="705.3" y="640" width="1.5" height="53.7"/><rect x="709.3" y="640" width="1.5" height="54.4"/><rect x="713.3" y="640" width="1.5" height="55.2"/><rect x="717.3" y="640" width="1.5" height="56.0"/><rect x="721.3" y="640" width="1.5" height="55.8"/><rect x="725.3" y="640" width="1.5" height="55.6"/><rect x="729.3" y="640" width="1.5" height="54.6"/><rect x="733.3" y="640" width="1.5" height="51.3"/><rect x="737.3" y="640" width="1.5" height="47.5"/><rect x="741.3" y="640" width="1.5" height="43.5"/><rect x="745.3" y="640" width="1.5" height="39.7"/><rect x="749.3" y="640" width="1.5" height="36.2"/><rect x="753.3" y="640" width="1.5" height="33.3"/><rect x="757.3" y="640" width="1.5" height="31.3"/><rect x="761.3" y="640" width="1.5" height="30.0"/><rect x="765.3" y="640" width="1.5" height="29.5"/><rect x="769.3" y="640" width="1.5" height="28.8"/><rect x="773.3" y="640" width="1.5" height="28.0"/><rect x="777.3" y="640" width="1.5" height="26.7"/><rect x="781.3" y="640" width="1.5" height="23.8"/><rect x="784.3" y="640" width="1.5" height="21.5"/><rect x="788.3" y="640" width="1.5" height="18.0"/><rect x="792.3" y="640" width="1.5" height="14.2"/><rect x="796.3" y="640" width="1.5" height="8.7"/><rect x="800.3" y="640" width="1.5" height="3.4"/><rect x="804.3" y="638.7" width="1.5" height="1.3"/><rect x="808.3" y="636.2" width="1.5" height="3.8"/><rect x="812.3" y="638.3" width="1.5" height="1.7"/><rect x="816.3" y="640" width="1.5" height="0.7"/><rect x="820.3" y="640" width="1.5" height="3.0"/><rect x="824.3" y="640" width="1.5" height="4.8"/><rect x="828.3" y="640" width="1.5" height="6.8"/><rect x="832.3" y="640" width="1.5" height="10.3"/><rect x="836.3" y="640" width="1.5" height="13.8"/><rect x="840.3" y="640" width="1.5" height="17.1"/><rect x="844.3" y="640" width="1.5" height="18.9"/><rect x="848.3" y="640" width="1.5" height="17.1"/><rect x="852.3" y="640" width="1.5" height="15.2"/><rect x="856.3" y="640" width="1.5" height="13.2"/><rect x="860.3" y="640" width="1.5" height="10.3"/><rect x="864.3" y="640" width="1.5" height="6.3"/><rect x="868.3" y="640" width="1.5" height="2.8"/><rect x="872.3" y="639.8" width="1.5" height="0.2"/><rect x="876.3" y="637.9" width="1.5" height="2.1"/><rect x="880.3" y="636.6" width="1.5" height="3.4"/><rect x="884.3" y="637.9" width="1.5" height="2.1"/><rect x="888.3" y="640" width="1.5" height="0.3"/><rect x="892.3" y="640" width="1.5" height="4.8"/><rect x="896.3" y="640" width="1.5" height="8.6"/><rect x="900.3" y="640" width="1.5" height="11.5"/><rect x="904.3" y="640" width="1.5" height="11.3"/><rect x="908.3" y="640" width="1.5" height="9.9"/><rect x="912.3" y="640" width="1.5" height="6.4"/><rect x="916.3" y="640" width="1.5" height="2.2"/><rect x="920.3" y="634.7" width="1.5" height="5.3"/><rect x="924.3" y="626.4" width="1.5" height="13.6"/><rect x="928.3" y="624.1" width="1.5" height="15.9"/><rect x="932.3" y="623.6" width="1.5" height="16.4"/><rect x="936.3" y="626.4" width="1.5" height="13.6"/><rect x="940.3" y="630.8" width="1.5" height="9.2"/><rect x="944.3" y="635.3" width="1.5" height="4.7"/><rect x="948.3" y="640" width="1.5" height="0.3"/><rect x="952.3" y="640" width="1.5" height="5.4"/><rect x="956.3" y="640" width="1.5" height="10.6"/><rect x="960.3" y="640" width="1.5" height="14.8"/><rect x="964.3" y="640" width="1.5" height="18.3"/><rect x="968.3" y="640" width="1.5" height="19.1"/><rect x="972.3" y="640" width="1.5" height="19.3"/><rect x="976.3" y="640" width="1.5" height="18.4"/><rect x="980.3" y="640" width="1.5" height="17.8"/><rect x="984.3" y="640" width="1.5" height="17.6"/><rect x="988.3" y="640" width="1.5" height="17.3"/><rect x="992.3" y="640" width="1.5" height="15.5"/><rect x="996.3" y="640" width="1.5" height="13.6"/><rect x="1000.3" y="640" width="1.5" height="11.9"/><rect x="1004.3" y="640" width="1.5" height="10.3"/><rect x="1008.3" y="640" width="1.5" height="8.8"/><rect x="1012.3" y="640" width="1.5" height="7.5"/><rect x="1016.3" y="640" width="1.5" height="6.1"/><rect x="1020.3" y="640" width="1.5" height="5.8"/><rect x="1024.3" y="640" width="1.5" height="5.6"/><rect x="1027.3" y="640" width="1.5" height="7.1"/><rect x="1031.3" y="640" width="1.5" height="9.1"/><rect x="1035.3" y="640" width="1.5" height="11.6"/><rect x="1039.3" y="640" width="1.5" height="14.1"/><rect x="1043.3" y="640" width="1.5" height="17.6"/><rect x="1047.3" y="640" width="1.5" height="21.0"/><rect x="1051.3" y="640" width="1.5" height="23.0"/><rect x="1055.3" y="640" width="1.5" height="24.5"/><rect x="1059.3" y="640" width="1.5" height="24.2"/><rect x="1063.3" y="640" width="1.5" height="24.0"/><rect x="1067.3" y="640" width="1.5" height="24.0"/><rect x="1071.3" y="640" width="1.5" height="23.5"/><rect x="1075.3" y="640" width="1.5" height="22.3"/><rect x="1079.3" y="640" width="1.5" height="20.8"/><rect x="1083.3" y="640" width="1.5" height="18.8"/><rect x="1087.3" y="640" width="1.5" height="18.2"/><rect x="1091.3" y="640" width="1.5" height="18.7"/><rect x="1095.3" y="640" width="1.5" height="18.9"/><rect x="1099.3" y="640" width="1.5" height="18.9"/><rect x="1103.3" y="640" width="1.5" height="18.9"/><rect x="1107.3" y="640" width="1.5" height="18.9"/><rect x="1111.3" y="640" width="1.5" height="18.9"/><rect x="1115.3" y="640" width="1.5" height="19.3"/><rect x="1119.3" y="640" width="1.5" height="19.8"/><rect x="1123.3" y="640" width="1.5" height="16.8"/><rect x="1127.3" y="640" width="1.5" height="13.8"/><rect x="1131.3" y="640" width="1.5" height="10.3"/><rect x="1135.3" y="640" width="1.5" height="7.0"/><rect x="1139.3" y="640" width="1.5" height="4.5"/><rect x="1143.3" y="640" width="1.5" height="2.4"/><rect x="1147.3" y="640" width="1.5" height="1.4"/><rect x="1151.3" y="639.8" width="1.5" height="0.2"/><rect x="1155.3" y="637.7" width="1.5" height="2.3"/><rect x="1159.3" y="636.6" width="1.5" height="3.4"/><rect x="1163.3" y="638.1" width="1.5" height="1.9"/><rect x="1167.3" y="639.9" width="1.5" height="0.1"/><rect x="1171.3" y="640" width="1.5" height="2.0"/><rect x="1175.3" y="640" width="1.5" height="4.8"/><rect x="1179.3" y="640" width="1.5" height="4.5"/><rect x="1183.3" y="640" width="1.5" height="3.8"/><rect x="1187.3" y="640" width="1.5" height="2.5"/><rect x="1191.3" y="640" width="1.5" height="1.2"/></g>
<line x1="13" y1="640.5" x2="1314" y2="640.5" stroke="#ff0000" stroke-width="1" stroke-dasharray="1.5 1.5"/>
<path d="M12.9,647.4C14.0,647.9 17.1,648.5 19.5,650.3C21.9,652.0 24.6,655.7 27.1,657.9C29.7,660.1 32.2,661.4 34.8,663.6C37.3,665.8 39.9,668.8 42.4,671.2C44.9,673.6 47.8,676.1 50.0,677.9C52.2,679.6 54.0,680.9 55.7,681.7C57.5,682.6 58.6,683.5 60.5,683.0C62.4,682.5 64.8,680.9 67.2,678.9C69.6,676.9 72.3,674.5 74.8,671.2C77.3,667.9 79.9,663.0 82.4,658.9C84.9,654.8 87.8,649.3 90.0,646.5C92.2,643.7 93.8,643.3 95.7,642.3C97.6,641.3 99.6,641.6 101.5,640.4C103.4,639.2 105.5,636.5 107.2,635.0C108.9,633.5 110.0,632.2 111.9,631.2C113.8,630.2 116.5,629.5 118.6,628.9C120.7,628.3 122.1,628.6 124.3,627.8C126.5,627.0 129.4,624.9 132.0,624.0C134.6,623.1 137.4,622.9 139.6,622.6C141.8,622.3 143.1,622.0 145.3,622.3C147.5,622.6 150.4,623.2 152.9,624.5C155.4,625.8 157.9,628.2 160.5,630.3C163.1,632.4 165.7,634.9 168.2,636.9C170.7,638.9 173.2,642.1 175.4,642.1C177.6,642.1 179.2,640.9 181.5,636.9C183.8,632.9 186.7,623.1 189.1,617.9C191.5,612.7 193.6,608.1 195.8,605.5C198.0,602.9 200.3,603.1 202.5,602.3C204.7,601.5 206.9,600.4 209.1,600.7C211.3,601.0 213.7,603.0 215.8,604.2C217.9,605.4 219.3,606.8 221.5,608.0C223.7,609.2 226.5,610.0 229.1,611.2C231.7,612.4 234.2,614.0 236.8,615.0C239.4,616.0 242.0,616.0 244.4,616.9C246.8,617.8 248.8,618.4 251.0,620.3C253.2,622.2 255.2,625.6 257.6,628.4C260.0,631.2 263.0,634.0 265.2,636.9C267.4,639.8 268.8,643.4 271.0,645.5C273.2,647.6 276.4,649.2 278.6,649.7C280.8,650.2 282.4,650.2 284.3,648.4C286.2,646.6 287.8,643.4 290.0,638.8C292.2,634.2 295.1,626.6 297.6,620.7C300.2,614.8 302.8,608.7 305.3,603.6C307.9,598.5 310.7,593.5 312.9,590.3C315.1,587.1 316.7,585.7 318.6,584.5C320.5,583.3 322.4,582.9 324.3,583.2C326.2,583.5 328.1,584.9 330.0,586.4C331.9,587.9 333.8,590.8 335.7,592.2C337.6,593.6 339.6,594.6 341.5,594.6C343.4,594.6 345.3,593.0 347.2,592.2C349.1,591.4 351.0,589.8 352.9,589.9C354.8,590.0 356.7,591.5 358.6,593.1C360.5,594.8 362.1,596.9 364.3,599.8C366.5,602.7 369.4,605.5 372.0,610.3C374.6,615.1 377.4,623.2 379.6,628.4C381.8,633.6 383.4,638.7 385.3,641.7C387.2,644.7 389.1,645.9 391.0,646.5C392.9,647.1 394.8,645.1 396.7,645.5C398.6,645.9 400.6,648.3 402.4,648.9C404.1,649.5 405.3,649.8 407.2,648.9C409.1,648.0 411.8,644.7 413.9,643.6C416.0,642.5 417.4,641.5 419.6,642.3C421.8,643.1 424.7,646.7 427.2,648.4C429.7,650.1 432.2,651.6 434.8,652.6C437.4,653.6 439.9,653.5 442.5,654.5C445.1,655.5 447.9,658.0 450.1,658.9C452.3,659.8 453.6,659.8 455.8,659.8C458.0,659.8 460.9,659.0 463.4,658.9C465.9,658.8 468.4,659.4 471.0,659.4C473.6,659.4 476.5,659.6 478.7,658.9C480.9,658.2 482.5,656.9 484.4,655.0C486.3,653.1 488.2,649.3 490.1,647.5C492.0,645.7 493.8,644.1 495.7,644.2C497.6,644.4 499.5,646.9 501.4,648.4C503.3,649.9 504.9,651.8 507.1,653.1C509.3,654.4 512.2,655.5 514.8,656.0C517.3,656.5 520.2,655.5 522.4,656.0C524.6,656.5 526.2,657.9 528.1,658.9C530.0,659.9 531.6,661.6 533.8,662.1C536.0,662.6 538.8,662.1 541.4,661.7C544.0,661.3 546.5,660.6 549.1,659.8C551.7,659.0 554.2,658.2 556.7,656.9C559.2,655.6 562.1,653.9 564.3,652.2C566.5,650.5 568.2,648.7 570.0,646.5C571.8,644.3 573.2,641.8 574.8,638.8C576.4,635.8 577.9,632.2 579.6,628.4C581.4,624.6 583.4,621.6 585.3,616.0C587.2,610.4 589.1,602.0 591.0,595.0C592.9,588.0 595.0,578.7 596.7,574.1C598.5,569.5 599.9,568.6 601.5,567.4C603.1,566.2 604.6,565.7 606.2,566.8C607.8,567.9 609.2,570.4 611.0,574.1C612.8,577.9 614.6,584.1 616.7,589.3C618.8,594.5 621.3,600.1 623.4,605.5C625.5,610.9 627.2,615.8 629.1,621.7C631.0,627.6 632.9,635.6 634.8,640.7C636.7,645.8 638.6,649.8 640.5,652.2C642.4,654.6 644.3,653.4 646.2,655.0C648.1,656.6 650.1,659.8 652.0,661.7C653.9,663.6 655.8,665.4 657.7,666.5C659.6,667.6 661.5,667.1 663.4,668.4C665.3,669.7 667.2,671.4 669.1,674.1C671.0,676.8 672.9,681.8 674.8,684.6C676.7,687.5 678.6,689.5 680.5,691.2C682.4,692.9 684.7,694.1 686.3,695.0C687.9,695.9 688.5,696.7 690.1,696.4C691.7,696.1 693.6,693.6 695.8,693.1C698.0,692.6 700.9,692.9 703.4,693.1C705.9,693.3 708.5,694.0 711.0,694.5C713.5,695.0 716.2,695.8 718.7,696.0C721.2,696.2 724.2,695.9 726.3,695.6C728.3,695.4 729.1,695.7 731.0,694.5C732.9,693.3 735.2,690.7 737.6,688.4C740.0,686.1 742.7,683.2 745.2,680.8C747.8,678.4 750.4,675.9 752.9,674.1C755.4,672.4 758.0,671.1 760.5,670.3C763.0,669.5 765.2,669.8 768.1,669.3C771.0,668.8 774.7,668.7 777.6,667.4C780.5,666.1 782.8,663.8 785.3,661.7C787.8,659.6 790.4,657.9 792.9,655.0C795.4,652.1 798.3,647.5 800.5,644.6C802.7,641.8 804.8,639.3 806.2,637.9C807.6,636.5 807.8,635.9 809.1,636.0C810.4,636.1 811.7,637.3 813.8,638.5C815.9,639.7 819.0,641.7 821.5,643.0C824.0,644.3 826.6,644.8 829.1,646.5C831.6,648.2 834.2,651.0 836.7,653.1C839.2,655.2 841.8,658.9 844.3,659.4C846.8,659.9 849.5,657.2 852.0,656.0C854.5,654.8 857.1,654.1 859.6,652.2C862.1,650.3 864.7,646.8 867.2,644.6C869.7,642.4 872.4,640.1 874.8,638.8C877.2,637.5 879.3,636.6 881.5,636.6C883.7,636.6 885.8,637.0 888.2,638.8C890.6,640.6 893.4,645.2 895.8,647.4C898.2,649.6 900.2,651.7 902.4,652.2C904.6,652.7 906.7,651.7 909.1,650.3C911.5,648.9 914.8,645.8 916.7,643.6C918.6,641.4 919.1,639.8 920.5,636.9C921.9,634.0 923.4,628.9 925.3,626.5C927.2,624.1 929.9,622.6 932.0,622.6C934.1,622.6 935.5,624.4 937.7,626.5C939.9,628.6 942.8,632.0 945.3,635.0C947.8,638.0 950.7,641.7 952.9,644.6C955.1,647.5 956.6,649.9 958.7,652.2C960.8,654.5 963.1,657.1 965.3,658.3C967.5,659.5 969.6,659.7 972.0,659.6C974.4,659.5 976.6,658.2 979.5,657.9C982.4,657.5 985.9,658.3 989.1,657.5C992.3,656.7 995.4,654.5 998.6,653.1C1001.8,651.7 1004.9,650.5 1008.1,649.3C1011.3,648.1 1014.7,646.7 1017.6,646.1C1020.5,645.5 1022.8,645.0 1025.3,645.5C1027.8,646.0 1030.4,647.9 1032.9,649.3C1035.4,650.7 1038.0,652.2 1040.5,654.1C1043.0,656.0 1045.6,659.0 1048.1,660.8C1050.6,662.5 1053.2,664.1 1055.7,664.6C1058.2,665.1 1060.9,664.1 1063.4,664.0C1066.0,663.9 1068.5,664.4 1071.0,664.0C1073.5,663.6 1076.1,662.7 1078.6,661.7C1081.1,660.7 1083.7,658.4 1086.2,657.9C1088.8,657.4 1091.0,658.7 1093.9,658.9C1096.8,659.1 1100.2,658.9 1103.4,658.9C1106.6,658.9 1110.1,658.8 1112.9,658.9C1115.8,659.0 1118.0,660.6 1120.5,659.8C1123.0,659.0 1125.7,656.2 1128.2,654.1C1130.8,652.0 1133.3,649.3 1135.8,647.4C1138.3,645.5 1140.9,643.8 1143.4,642.7C1145.9,641.6 1148.9,641.5 1151.0,640.7C1153.1,639.9 1154.2,638.6 1155.8,637.9C1157.4,637.2 1158.8,636.5 1160.5,636.6C1162.2,636.8 1164.4,637.9 1166.3,638.8C1168.2,639.6 1170.3,640.7 1172.0,641.7C1173.7,642.7 1174.8,644.5 1176.7,644.9C1178.6,645.3 1181.3,644.6 1183.4,644.2C1185.5,643.8 1187.5,642.8 1189.1,642.3C1190.7,641.8 1192.3,641.3 1192.9,641.1" fill="none" stroke="#ff3030" stroke-width="2.4" stroke-opacity="0.9" stroke-linejoin="round"/>
<path d="M12.9,652.2C13.7,651.8 15.9,649.9 17.6,649.7C19.3,649.5 21.1,650.0 23.3,651.2C25.5,652.4 28.4,654.8 31.0,656.9C33.5,659.0 36.1,661.2 38.6,663.6C41.1,666.0 43.7,668.8 46.2,671.2C48.7,673.6 51.4,676.2 53.8,677.9C56.2,679.5 58.3,680.8 60.5,681.1C62.7,681.4 65.1,680.5 67.2,679.8C69.3,679.1 70.7,679.1 72.9,677.0C75.1,674.9 78.3,670.4 80.5,667.4C82.7,664.4 84.3,661.6 86.2,658.9C88.1,656.2 89.7,653.6 91.9,651.2C94.1,648.8 97.4,646.5 99.6,644.6C101.8,642.7 103.1,641.5 105.3,639.8C107.5,638.0 110.1,635.8 112.9,634.1C115.8,632.4 119.2,631.0 122.4,629.7C125.6,628.4 128.8,627.5 132.0,626.5C135.2,625.5 138.7,624.5 141.5,624.0C144.3,623.5 146.6,623.4 149.1,623.6C151.6,623.8 154.5,624.3 156.7,625.1C158.9,625.9 160.2,626.9 162.4,628.4C164.6,629.9 167.9,632.4 170.1,634.1C172.3,635.8 174.1,637.7 175.8,638.5C177.5,639.3 178.9,639.2 180.5,638.8C182.1,638.4 183.6,638.4 185.3,636.0C187.1,633.6 189.1,628.1 191.0,624.5C192.9,620.9 194.8,617.0 196.7,614.1C198.6,611.2 200.6,609.2 202.5,607.4C204.4,605.5 206.3,603.9 208.2,603.0C210.1,602.1 211.7,602.0 213.9,602.3C216.1,602.6 219.0,603.9 221.5,604.9C224.0,605.9 226.5,607.2 229.1,608.4C231.7,609.5 234.2,610.8 236.8,611.8C239.4,612.8 242.0,613.2 244.4,614.1C246.8,615.0 248.8,615.6 251.0,616.9C253.2,618.2 255.2,619.8 257.6,621.7C260.0,623.6 262.6,625.4 265.2,628.4C267.8,631.4 270.7,636.8 272.9,639.8C275.1,642.8 276.9,644.8 278.6,646.1C280.3,647.4 281.7,647.7 283.3,647.8C284.9,647.9 286.4,647.8 288.1,646.5C289.9,645.2 291.6,643.5 293.8,639.8C296.0,636.1 298.8,629.7 301.4,624.5C303.9,619.3 306.6,613.5 309.1,608.4C311.7,603.3 314.5,597.6 316.7,594.1C318.9,590.6 320.5,588.9 322.4,587.4C324.3,585.9 326.2,585.0 328.1,585.1C330.0,585.2 331.9,586.7 333.8,587.8C335.7,588.9 337.7,590.6 339.6,591.6C341.5,592.6 343.4,593.4 345.3,593.5C347.2,593.6 349.1,592.5 351.0,592.2C352.9,591.9 354.8,591.3 356.7,591.6C358.6,591.9 360.5,592.9 362.4,594.1C364.3,595.3 366.2,596.9 368.1,598.8C370.0,600.7 372.0,602.6 373.9,605.5C375.8,608.4 377.4,611.5 379.6,616.0C381.8,620.5 385.0,628.2 387.2,632.2C389.4,636.2 391.0,637.7 392.9,639.8C394.8,641.9 396.7,643.5 398.6,644.9C400.5,646.3 402.4,648.0 404.3,648.4C406.2,648.8 407.9,647.8 410.1,647.0C412.3,646.2 415.6,644.3 417.7,643.6C419.8,642.9 420.5,642.5 422.4,643.0C424.3,643.5 426.7,645.3 429.1,646.5C431.5,647.7 434.1,649.0 436.7,650.3C439.2,651.6 441.8,652.8 444.4,654.1C446.9,655.4 449.5,657.1 452.0,657.9C454.5,658.7 456.8,658.6 459.6,658.9C462.5,659.1 465.9,659.4 469.1,659.4C472.3,659.4 476.0,659.5 478.7,658.9C481.4,658.3 483.2,657.2 485.3,656.0C487.4,654.8 488.8,653.0 491.0,651.5C493.2,650.0 496.2,647.0 498.6,646.8C501.0,646.6 502.5,649.1 505.2,650.3C507.9,651.5 511.6,653.3 514.8,654.1C518.0,654.9 521.1,654.1 524.3,655.0C527.5,655.9 530.6,658.4 533.8,659.4C537.0,660.4 540.2,661.2 543.4,661.3C546.6,661.4 549.7,660.7 552.9,659.8C556.1,658.9 559.5,657.6 562.4,656.0C565.2,654.4 567.5,652.7 570.0,650.3C572.5,647.9 575.5,644.6 577.7,641.7C579.9,638.8 581.5,637.1 583.4,633.1C585.3,629.1 587.2,623.6 589.1,617.9C591.0,612.2 592.9,604.4 594.8,598.8C596.7,593.2 598.8,588.5 600.5,584.5C602.2,580.5 603.9,577.1 605.3,575.0C606.7,572.9 607.7,571.8 609.1,571.8C610.5,571.8 612.1,573.0 613.9,575.0C615.6,577.0 617.9,580.7 619.6,583.6C621.3,586.5 622.5,588.4 624.3,592.2C626.0,596.0 628.2,601.2 630.1,606.4C632.0,611.6 634.1,618.2 635.8,623.6C637.5,629.0 638.8,634.3 640.5,638.8C642.2,643.2 644.0,646.8 646.2,650.3C648.4,653.8 651.7,657.4 653.9,659.8C656.1,662.2 657.4,663.0 659.6,664.6C661.8,666.2 665.0,667.2 667.2,669.3C669.4,671.4 671.0,674.5 672.9,677.0C674.8,679.5 676.7,682.6 678.6,684.6C680.5,686.6 682.5,687.9 684.4,689.3C686.3,690.7 687.9,692.4 690.1,693.1C692.3,693.8 694.9,693.6 697.7,693.7C700.6,693.8 704.0,693.5 707.2,693.7C710.4,693.9 713.6,694.8 716.8,695.1C720.0,695.4 723.8,695.6 726.3,695.6C728.8,695.6 729.8,696.0 732.0,695.3C734.2,694.6 736.6,693.2 739.5,691.2C742.4,689.2 745.9,686.1 749.1,683.6C752.3,681.1 755.4,678.0 758.6,676.0C761.8,674.0 764.6,672.7 768.1,671.6C771.6,670.5 776.3,670.3 779.5,669.3C782.7,668.3 784.7,667.1 787.2,665.5C789.8,663.9 792.3,662.3 794.8,659.8C797.3,657.3 800.2,653.1 802.4,650.3C804.6,647.4 806.2,644.6 808.1,642.7C810.0,640.8 811.6,639.3 813.8,638.8C816.0,638.3 819.0,639.0 821.5,639.8C824.0,640.6 826.6,642.0 829.1,643.6C831.6,645.2 834.2,647.2 836.7,649.3C839.2,651.4 842.2,654.5 844.3,656.0C846.4,657.5 847.2,658.2 849.1,658.3C851.0,658.4 853.4,657.3 855.8,656.4C858.2,655.5 860.9,654.4 863.4,652.6C865.9,650.8 868.5,647.5 871.0,645.5C873.5,643.5 876.2,642.0 878.6,640.7C881.0,639.4 883.1,638.0 885.3,637.9C887.5,637.8 889.6,638.4 892.0,639.8C894.4,641.2 897.4,644.8 899.6,646.5C901.8,648.2 903.4,649.8 905.3,650.3C907.2,650.8 908.8,650.1 911.0,649.3C913.2,648.5 916.4,647.6 918.6,645.5C920.8,643.4 922.5,639.6 924.4,636.9C926.3,634.2 928.0,631.3 930.1,629.3C932.2,627.3 934.5,625.5 936.7,625.1C938.9,624.7 941.3,625.8 943.4,627.0C945.5,628.2 947.2,630.1 949.1,632.2C951.0,634.3 952.6,636.8 954.8,639.8C957.0,642.8 960.3,647.6 962.5,650.3C964.7,653.0 966.3,654.6 968.2,656.0C970.1,657.4 972.1,658.3 973.9,658.7C975.7,659.1 977.4,658.6 979.0,658.5C980.6,658.4 981.3,658.0 983.3,657.9C985.3,657.8 988.1,658.5 991.0,657.9C993.9,657.3 997.3,655.4 1000.5,654.1C1003.7,652.8 1006.8,651.4 1010.0,650.3C1013.2,649.2 1016.6,648.0 1019.5,647.4C1022.4,646.8 1024.7,646.2 1027.2,646.5C1029.8,646.8 1032.3,648.0 1034.8,649.3C1037.3,650.6 1039.9,652.4 1042.4,654.1C1044.9,655.9 1047.5,658.3 1050.0,659.8C1052.5,661.3 1055.2,662.3 1057.7,663.0C1060.2,663.7 1062.5,663.9 1065.3,664.0C1068.1,664.1 1071.9,664.1 1074.8,663.6C1077.7,663.1 1079.9,661.6 1082.4,660.8C1084.9,660.0 1087.1,659.3 1090.0,658.9C1092.9,658.5 1096.4,658.4 1099.6,658.3C1102.8,658.2 1105.6,658.2 1109.1,658.3C1112.6,658.4 1117.3,659.2 1120.5,658.9C1123.7,658.6 1125.7,657.8 1128.2,656.4C1130.8,655.0 1133.3,652.3 1135.8,650.3C1138.3,648.3 1140.9,646.0 1143.4,644.6C1145.9,643.2 1148.5,642.7 1151.0,641.7C1153.5,640.7 1156.4,639.4 1158.6,638.8C1160.8,638.2 1162.5,637.9 1164.4,637.9C1166.3,637.9 1168.2,638.3 1170.1,638.8C1172.0,639.3 1173.9,640.3 1175.8,641.1C1177.7,641.9 1179.6,643.2 1181.5,643.6C1183.4,644.0 1185.3,643.8 1187.2,643.6C1189.1,643.4 1192.0,642.5 1192.9,642.3" fill="none" stroke="#4848ee" stroke-width="2.3" stroke-linejoin="round" stroke-linecap="round"/>
</g>
<text x="32.9" y="579.8" font-size="18.7" font-weight="bold" fill="#0a0a0a" textLength="159" lengthAdjust="spacingAndGlyphs" stroke="#fff" stroke-width="0.22">Tension Indicator</text>
<g shape-rendering="crispEdges" fill="#4c5060"><rect x="1314" y="35" width="1" height="729"/><rect x="14" y="710" width="1446" height="1"/></g>
<rect x="14" y="550" width="1446" height="1" fill="#e0e3eb" shape-rendering="crispEdges"/>
<text x="1332" y="84.1" font-size="24" fill="#131722" textLength="100" lengthAdjust="spacingAndGlyphs">20.00000</text>
<text x="1332" y="157.2" font-size="24" fill="#131722" textLength="100" lengthAdjust="spacingAndGlyphs">19.50000</text>
<text x="1332" y="230.2" font-size="24" fill="#131722" textLength="100" lengthAdjust="spacingAndGlyphs">19.00000</text>
<text x="1332" y="302.2" font-size="24" fill="#131722" textLength="100" lengthAdjust="spacingAndGlyphs">18.50000</text>
<text x="1332" y="375.2" font-size="24" fill="#131722" textLength="100" lengthAdjust="spacingAndGlyphs">18.00000</text>
<text x="1332" y="521.2" font-size="24" fill="#131722" textLength="100" lengthAdjust="spacingAndGlyphs">17.00000</text>
<rect x="1318.5" y="38.5" width="139" height="32" rx="4" fill="#fff" stroke="#f0f1f3" stroke-width="1.4"/>
<text x="1330.5" y="59.9" font-size="14.6" fill="#131722" textLength="26.5" lengthAdjust="spacingAndGlyphs">ZAR</text>
<path d="M1315,382 H1439 Q1442,382 1442,385 V414 Q1442,417 1439,417 H1315 Z" fill="#bf9000"/>
<text x="1332.5" y="408.2" font-size="24" fill="#fff" textLength="99.5" lengthAdjust="spacingAndGlyphs">17.77497</text>
<path d="M1315,424.5 H1439 Q1442,424.5 1442,427.5 V456.3 Q1442,459.3 1439,459.3 H1315 Z" fill="#6aa84f"/>
<text x="1332.5" y="449.3" font-size="24" fill="#fff" textLength="99.5" lengthAdjust="spacingAndGlyphs">17.48992</text>
<path d="M1315,459.3 H1439 Q1442,459.3 1442,462.3 V491 Q1442,494 1439,494 H1315 Z" fill="#3c3fa5"/>
<text x="1332.5" y="485.0" font-size="24" fill="#fff" textLength="99.5" lengthAdjust="spacingAndGlyphs">17.29655</text>
<text x="156.4" y="742.8" font-size="24" font-weight="normal" fill="#131722" text-anchor="middle">Nov</text>
<text x="323.6" y="742.8" font-size="24" font-weight="bold" fill="#131722" text-anchor="middle">2025</text>
<text x="491" y="742.8" font-size="24" font-weight="normal" fill="#131722" text-anchor="middle">Mar</text>
<text x="661.5" y="742.8" font-size="24" font-weight="normal" fill="#131722" text-anchor="middle">May</text>
<text x="833.5" y="742.8" font-size="24" font-weight="normal" fill="#131722" text-anchor="middle">Jul</text>
<text x="1008.5" y="742.8" font-size="24" font-weight="normal" fill="#131722" text-anchor="middle">Sep</text>
<text x="1188.6" y="742.8" font-size="24" font-weight="normal" fill="#131722" text-anchor="middle">Nov</text>
<g fill="#131722"><path d="M15.9,792.6 H30.5 V810.9 H22.8 V799.9 H15.9 Z"/><circle cx="37.6" cy="795.7" r="3.1"/><path d="M43.8,792.6 H52.5 L45.2,810.9 H36.6 Z"/></g>
<text x="62" y="810.9" font-size="25.5" font-weight="bold" fill="#131722" textLength="150.8" lengthAdjust="spacingAndGlyphs">TradingView</text>
</g>
</svg>
</body></html>
